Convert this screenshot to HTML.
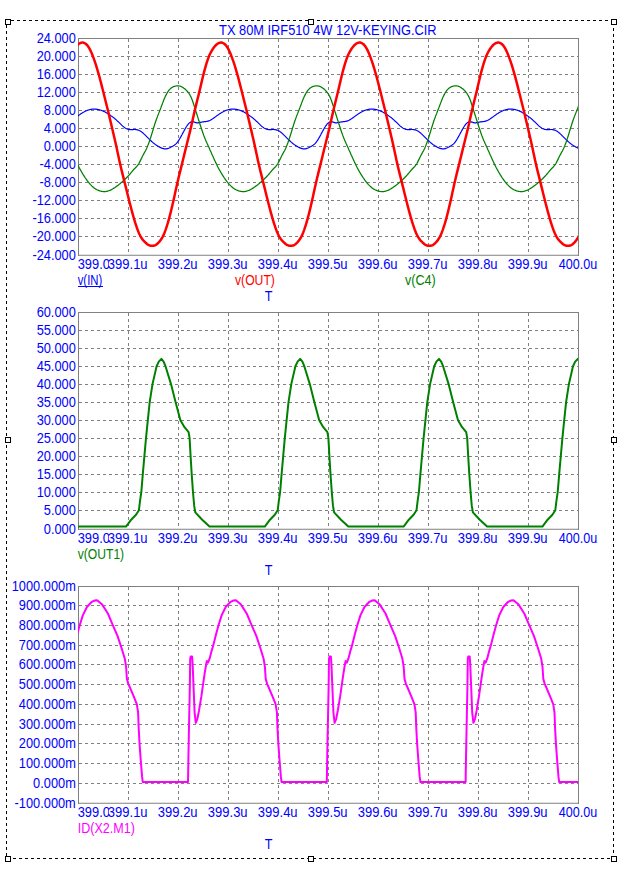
<!DOCTYPE html>
<html><head><meta charset="utf-8"><title>TX 80M IRF510 4W 12V-KEYING.CIR</title>
<style>
html,body{margin:0;padding:0;background:#fff;}
body{width:619px;height:872px;overflow:hidden;position:relative;}
svg{position:absolute;left:0;top:0;display:block;}
text{font-family:"Liberation Sans",sans-serif;font-size:14.5px;}
.t{fill:#0000ff;}
.g{stroke:#808080;stroke-width:1;stroke-dasharray:3 3;shape-rendering:crispEdges;}
.f{fill:none;stroke:#808080;stroke-width:1;shape-rendering:crispEdges;}
.sel{fill:none;stroke:#000;stroke-width:1;stroke-dasharray:3 3;shape-rendering:crispEdges;}
.h{fill:#fff;stroke:#000;stroke-width:1;shape-rendering:crispEdges;}
.c{fill:none;stroke-linejoin:round;stroke-linecap:round;}
</style></head><body>
<svg width="619" height="872" viewBox="0 0 619 872">
<rect x="0" y="0" width="619" height="872" fill="#fff"/>
<g fill="#000" shape-rendering="crispEdges">
<rect x="6" y="20" width="2" height="1"/><rect x="11" y="20" width="3" height="1"/><rect x="17" y="20" width="3" height="1"/><rect x="23" y="20" width="3" height="1"/><rect x="29" y="20" width="3" height="1"/><rect x="35" y="20" width="3" height="1"/><rect x="41" y="20" width="3" height="1"/><rect x="47" y="20" width="3" height="1"/><rect x="53" y="20" width="3" height="1"/><rect x="59" y="20" width="3" height="1"/><rect x="65" y="20" width="3" height="1"/><rect x="71" y="20" width="3" height="1"/><rect x="77" y="20" width="3" height="1"/><rect x="83" y="20" width="3" height="1"/><rect x="89" y="20" width="3" height="1"/><rect x="95" y="20" width="3" height="1"/><rect x="101" y="20" width="3" height="1"/><rect x="107" y="20" width="3" height="1"/><rect x="113" y="20" width="3" height="1"/><rect x="119" y="20" width="3" height="1"/><rect x="125" y="20" width="3" height="1"/><rect x="131" y="20" width="3" height="1"/><rect x="137" y="20" width="3" height="1"/><rect x="143" y="20" width="3" height="1"/><rect x="149" y="20" width="3" height="1"/><rect x="155" y="20" width="3" height="1"/><rect x="161" y="20" width="3" height="1"/><rect x="167" y="20" width="3" height="1"/><rect x="173" y="20" width="3" height="1"/><rect x="179" y="20" width="3" height="1"/><rect x="185" y="20" width="3" height="1"/><rect x="191" y="20" width="3" height="1"/><rect x="197" y="20" width="3" height="1"/><rect x="203" y="20" width="3" height="1"/><rect x="209" y="20" width="3" height="1"/><rect x="215" y="20" width="3" height="1"/><rect x="221" y="20" width="3" height="1"/><rect x="227" y="20" width="3" height="1"/><rect x="233" y="20" width="3" height="1"/><rect x="239" y="20" width="3" height="1"/><rect x="245" y="20" width="3" height="1"/><rect x="251" y="20" width="3" height="1"/><rect x="257" y="20" width="3" height="1"/><rect x="263" y="20" width="3" height="1"/><rect x="269" y="20" width="3" height="1"/><rect x="275" y="20" width="3" height="1"/><rect x="281" y="20" width="3" height="1"/><rect x="287" y="20" width="3" height="1"/><rect x="293" y="20" width="3" height="1"/><rect x="299" y="20" width="3" height="1"/><rect x="305" y="20" width="3" height="1"/><rect x="311" y="20" width="3" height="1"/><rect x="317" y="20" width="3" height="1"/><rect x="323" y="20" width="3" height="1"/><rect x="329" y="20" width="3" height="1"/><rect x="335" y="20" width="3" height="1"/><rect x="341" y="20" width="3" height="1"/><rect x="347" y="20" width="3" height="1"/><rect x="353" y="20" width="3" height="1"/><rect x="359" y="20" width="3" height="1"/><rect x="365" y="20" width="3" height="1"/><rect x="371" y="20" width="3" height="1"/><rect x="377" y="20" width="3" height="1"/><rect x="383" y="20" width="3" height="1"/><rect x="389" y="20" width="3" height="1"/><rect x="395" y="20" width="3" height="1"/><rect x="401" y="20" width="3" height="1"/><rect x="407" y="20" width="3" height="1"/><rect x="413" y="20" width="3" height="1"/><rect x="419" y="20" width="3" height="1"/><rect x="425" y="20" width="3" height="1"/><rect x="431" y="20" width="3" height="1"/><rect x="437" y="20" width="3" height="1"/><rect x="443" y="20" width="3" height="1"/><rect x="449" y="20" width="3" height="1"/><rect x="455" y="20" width="3" height="1"/><rect x="461" y="20" width="3" height="1"/><rect x="467" y="20" width="3" height="1"/><rect x="473" y="20" width="3" height="1"/><rect x="479" y="20" width="3" height="1"/><rect x="485" y="20" width="3" height="1"/><rect x="491" y="20" width="3" height="1"/><rect x="497" y="20" width="3" height="1"/><rect x="503" y="20" width="3" height="1"/><rect x="509" y="20" width="3" height="1"/><rect x="515" y="20" width="3" height="1"/><rect x="521" y="20" width="3" height="1"/><rect x="527" y="20" width="3" height="1"/><rect x="533" y="20" width="3" height="1"/><rect x="539" y="20" width="3" height="1"/><rect x="545" y="20" width="3" height="1"/><rect x="551" y="20" width="3" height="1"/><rect x="557" y="20" width="3" height="1"/><rect x="563" y="20" width="3" height="1"/><rect x="569" y="20" width="3" height="1"/><rect x="575" y="20" width="3" height="1"/><rect x="581" y="20" width="3" height="1"/><rect x="587" y="20" width="3" height="1"/><rect x="593" y="20" width="3" height="1"/><rect x="599" y="20" width="3" height="1"/><rect x="605" y="20" width="3" height="1"/><rect x="611" y="20" width="3" height="1"/>
<rect x="7" y="858" width="3" height="1"/><rect x="13" y="858" width="3" height="1"/><rect x="19" y="858" width="3" height="1"/><rect x="25" y="858" width="3" height="1"/><rect x="31" y="858" width="3" height="1"/><rect x="37" y="858" width="3" height="1"/><rect x="43" y="858" width="3" height="1"/><rect x="49" y="858" width="3" height="1"/><rect x="55" y="858" width="3" height="1"/><rect x="61" y="858" width="3" height="1"/><rect x="67" y="858" width="3" height="1"/><rect x="73" y="858" width="3" height="1"/><rect x="79" y="858" width="3" height="1"/><rect x="85" y="858" width="3" height="1"/><rect x="91" y="858" width="3" height="1"/><rect x="97" y="858" width="3" height="1"/><rect x="103" y="858" width="3" height="1"/><rect x="109" y="858" width="3" height="1"/><rect x="115" y="858" width="3" height="1"/><rect x="121" y="858" width="3" height="1"/><rect x="127" y="858" width="3" height="1"/><rect x="133" y="858" width="3" height="1"/><rect x="139" y="858" width="3" height="1"/><rect x="145" y="858" width="3" height="1"/><rect x="151" y="858" width="3" height="1"/><rect x="157" y="858" width="3" height="1"/><rect x="163" y="858" width="3" height="1"/><rect x="169" y="858" width="3" height="1"/><rect x="175" y="858" width="3" height="1"/><rect x="181" y="858" width="3" height="1"/><rect x="187" y="858" width="3" height="1"/><rect x="193" y="858" width="3" height="1"/><rect x="199" y="858" width="3" height="1"/><rect x="205" y="858" width="3" height="1"/><rect x="211" y="858" width="3" height="1"/><rect x="217" y="858" width="3" height="1"/><rect x="223" y="858" width="3" height="1"/><rect x="229" y="858" width="3" height="1"/><rect x="235" y="858" width="3" height="1"/><rect x="241" y="858" width="3" height="1"/><rect x="247" y="858" width="3" height="1"/><rect x="253" y="858" width="3" height="1"/><rect x="259" y="858" width="3" height="1"/><rect x="265" y="858" width="3" height="1"/><rect x="271" y="858" width="3" height="1"/><rect x="277" y="858" width="3" height="1"/><rect x="283" y="858" width="3" height="1"/><rect x="289" y="858" width="3" height="1"/><rect x="295" y="858" width="3" height="1"/><rect x="301" y="858" width="3" height="1"/><rect x="307" y="858" width="3" height="1"/><rect x="313" y="858" width="3" height="1"/><rect x="319" y="858" width="3" height="1"/><rect x="325" y="858" width="3" height="1"/><rect x="331" y="858" width="3" height="1"/><rect x="337" y="858" width="3" height="1"/><rect x="343" y="858" width="3" height="1"/><rect x="349" y="858" width="3" height="1"/><rect x="355" y="858" width="3" height="1"/><rect x="361" y="858" width="3" height="1"/><rect x="367" y="858" width="3" height="1"/><rect x="373" y="858" width="3" height="1"/><rect x="379" y="858" width="3" height="1"/><rect x="385" y="858" width="3" height="1"/><rect x="391" y="858" width="3" height="1"/><rect x="397" y="858" width="3" height="1"/><rect x="403" y="858" width="3" height="1"/><rect x="409" y="858" width="3" height="1"/><rect x="415" y="858" width="3" height="1"/><rect x="421" y="858" width="3" height="1"/><rect x="427" y="858" width="3" height="1"/><rect x="433" y="858" width="3" height="1"/><rect x="439" y="858" width="3" height="1"/><rect x="445" y="858" width="3" height="1"/><rect x="451" y="858" width="3" height="1"/><rect x="457" y="858" width="3" height="1"/><rect x="463" y="858" width="3" height="1"/><rect x="469" y="858" width="3" height="1"/><rect x="475" y="858" width="3" height="1"/><rect x="481" y="858" width="3" height="1"/><rect x="487" y="858" width="3" height="1"/><rect x="493" y="858" width="3" height="1"/><rect x="499" y="858" width="3" height="1"/><rect x="505" y="858" width="3" height="1"/><rect x="511" y="858" width="3" height="1"/><rect x="517" y="858" width="3" height="1"/><rect x="523" y="858" width="3" height="1"/><rect x="529" y="858" width="3" height="1"/><rect x="535" y="858" width="3" height="1"/><rect x="541" y="858" width="3" height="1"/><rect x="547" y="858" width="3" height="1"/><rect x="553" y="858" width="3" height="1"/><rect x="559" y="858" width="3" height="1"/><rect x="565" y="858" width="3" height="1"/><rect x="571" y="858" width="3" height="1"/><rect x="577" y="858" width="3" height="1"/><rect x="583" y="858" width="3" height="1"/><rect x="589" y="858" width="3" height="1"/><rect x="595" y="858" width="3" height="1"/><rect x="601" y="858" width="3" height="1"/><rect x="607" y="858" width="3" height="1"/><rect x="613" y="858" width="1" height="1"/>
<rect x="6" y="20" width="1" height="2"/><rect x="6" y="25" width="1" height="3"/><rect x="6" y="31" width="1" height="3"/><rect x="6" y="37" width="1" height="3"/><rect x="6" y="43" width="1" height="3"/><rect x="6" y="49" width="1" height="3"/><rect x="6" y="55" width="1" height="3"/><rect x="6" y="61" width="1" height="3"/><rect x="6" y="67" width="1" height="3"/><rect x="6" y="73" width="1" height="3"/><rect x="6" y="79" width="1" height="3"/><rect x="6" y="85" width="1" height="3"/><rect x="6" y="91" width="1" height="3"/><rect x="6" y="97" width="1" height="3"/><rect x="6" y="103" width="1" height="3"/><rect x="6" y="109" width="1" height="3"/><rect x="6" y="115" width="1" height="3"/><rect x="6" y="121" width="1" height="3"/><rect x="6" y="127" width="1" height="3"/><rect x="6" y="133" width="1" height="3"/><rect x="6" y="139" width="1" height="3"/><rect x="6" y="145" width="1" height="3"/><rect x="6" y="151" width="1" height="3"/><rect x="6" y="157" width="1" height="3"/><rect x="6" y="163" width="1" height="3"/><rect x="6" y="169" width="1" height="3"/><rect x="6" y="175" width="1" height="3"/><rect x="6" y="181" width="1" height="3"/><rect x="6" y="187" width="1" height="3"/><rect x="6" y="193" width="1" height="3"/><rect x="6" y="199" width="1" height="3"/><rect x="6" y="205" width="1" height="3"/><rect x="6" y="211" width="1" height="3"/><rect x="6" y="217" width="1" height="3"/><rect x="6" y="223" width="1" height="3"/><rect x="6" y="229" width="1" height="3"/><rect x="6" y="235" width="1" height="3"/><rect x="6" y="241" width="1" height="3"/><rect x="6" y="247" width="1" height="3"/><rect x="6" y="253" width="1" height="3"/><rect x="6" y="259" width="1" height="3"/><rect x="6" y="265" width="1" height="3"/><rect x="6" y="271" width="1" height="3"/><rect x="6" y="277" width="1" height="3"/><rect x="6" y="283" width="1" height="3"/><rect x="6" y="289" width="1" height="3"/><rect x="6" y="295" width="1" height="3"/><rect x="6" y="301" width="1" height="3"/><rect x="6" y="307" width="1" height="3"/><rect x="6" y="313" width="1" height="3"/><rect x="6" y="319" width="1" height="3"/><rect x="6" y="325" width="1" height="3"/><rect x="6" y="331" width="1" height="3"/><rect x="6" y="337" width="1" height="3"/><rect x="6" y="343" width="1" height="3"/><rect x="6" y="349" width="1" height="3"/><rect x="6" y="355" width="1" height="3"/><rect x="6" y="361" width="1" height="3"/><rect x="6" y="367" width="1" height="3"/><rect x="6" y="373" width="1" height="3"/><rect x="6" y="379" width="1" height="3"/><rect x="6" y="385" width="1" height="3"/><rect x="6" y="391" width="1" height="3"/><rect x="6" y="397" width="1" height="3"/><rect x="6" y="403" width="1" height="3"/><rect x="6" y="409" width="1" height="3"/><rect x="6" y="415" width="1" height="3"/><rect x="6" y="421" width="1" height="3"/><rect x="6" y="427" width="1" height="3"/><rect x="6" y="433" width="1" height="3"/><rect x="6" y="439" width="1" height="3"/><rect x="6" y="445" width="1" height="3"/><rect x="6" y="451" width="1" height="3"/><rect x="6" y="457" width="1" height="3"/><rect x="6" y="463" width="1" height="3"/><rect x="6" y="469" width="1" height="3"/><rect x="6" y="475" width="1" height="3"/><rect x="6" y="481" width="1" height="3"/><rect x="6" y="487" width="1" height="3"/><rect x="6" y="493" width="1" height="3"/><rect x="6" y="499" width="1" height="3"/><rect x="6" y="505" width="1" height="3"/><rect x="6" y="511" width="1" height="3"/><rect x="6" y="517" width="1" height="3"/><rect x="6" y="523" width="1" height="3"/><rect x="6" y="529" width="1" height="3"/><rect x="6" y="535" width="1" height="3"/><rect x="6" y="541" width="1" height="3"/><rect x="6" y="547" width="1" height="3"/><rect x="6" y="553" width="1" height="3"/><rect x="6" y="559" width="1" height="3"/><rect x="6" y="565" width="1" height="3"/><rect x="6" y="571" width="1" height="3"/><rect x="6" y="577" width="1" height="3"/><rect x="6" y="583" width="1" height="3"/><rect x="6" y="589" width="1" height="3"/><rect x="6" y="595" width="1" height="3"/><rect x="6" y="601" width="1" height="3"/><rect x="6" y="607" width="1" height="3"/><rect x="6" y="613" width="1" height="3"/><rect x="6" y="619" width="1" height="3"/><rect x="6" y="625" width="1" height="3"/><rect x="6" y="631" width="1" height="3"/><rect x="6" y="637" width="1" height="3"/><rect x="6" y="643" width="1" height="3"/><rect x="6" y="649" width="1" height="3"/><rect x="6" y="655" width="1" height="3"/><rect x="6" y="661" width="1" height="3"/><rect x="6" y="667" width="1" height="3"/><rect x="6" y="673" width="1" height="3"/><rect x="6" y="679" width="1" height="3"/><rect x="6" y="685" width="1" height="3"/><rect x="6" y="691" width="1" height="3"/><rect x="6" y="697" width="1" height="3"/><rect x="6" y="703" width="1" height="3"/><rect x="6" y="709" width="1" height="3"/><rect x="6" y="715" width="1" height="3"/><rect x="6" y="721" width="1" height="3"/><rect x="6" y="727" width="1" height="3"/><rect x="6" y="733" width="1" height="3"/><rect x="6" y="739" width="1" height="3"/><rect x="6" y="745" width="1" height="3"/><rect x="6" y="751" width="1" height="3"/><rect x="6" y="757" width="1" height="3"/><rect x="6" y="763" width="1" height="3"/><rect x="6" y="769" width="1" height="3"/><rect x="6" y="775" width="1" height="3"/><rect x="6" y="781" width="1" height="3"/><rect x="6" y="787" width="1" height="3"/><rect x="6" y="793" width="1" height="3"/><rect x="6" y="799" width="1" height="3"/><rect x="6" y="805" width="1" height="3"/><rect x="6" y="811" width="1" height="3"/><rect x="6" y="817" width="1" height="3"/><rect x="6" y="823" width="1" height="3"/><rect x="6" y="829" width="1" height="3"/><rect x="6" y="835" width="1" height="3"/><rect x="6" y="841" width="1" height="3"/><rect x="6" y="847" width="1" height="3"/><rect x="6" y="853" width="1" height="3"/>
<rect x="613" y="22" width="1" height="3"/><rect x="613" y="28" width="1" height="3"/><rect x="613" y="34" width="1" height="3"/><rect x="613" y="40" width="1" height="3"/><rect x="613" y="46" width="1" height="3"/><rect x="613" y="52" width="1" height="3"/><rect x="613" y="58" width="1" height="3"/><rect x="613" y="64" width="1" height="3"/><rect x="613" y="70" width="1" height="3"/><rect x="613" y="76" width="1" height="3"/><rect x="613" y="82" width="1" height="3"/><rect x="613" y="88" width="1" height="3"/><rect x="613" y="94" width="1" height="3"/><rect x="613" y="100" width="1" height="3"/><rect x="613" y="106" width="1" height="3"/><rect x="613" y="112" width="1" height="3"/><rect x="613" y="118" width="1" height="3"/><rect x="613" y="124" width="1" height="3"/><rect x="613" y="130" width="1" height="3"/><rect x="613" y="136" width="1" height="3"/><rect x="613" y="142" width="1" height="3"/><rect x="613" y="148" width="1" height="3"/><rect x="613" y="154" width="1" height="3"/><rect x="613" y="160" width="1" height="3"/><rect x="613" y="166" width="1" height="3"/><rect x="613" y="172" width="1" height="3"/><rect x="613" y="178" width="1" height="3"/><rect x="613" y="184" width="1" height="3"/><rect x="613" y="190" width="1" height="3"/><rect x="613" y="196" width="1" height="3"/><rect x="613" y="202" width="1" height="3"/><rect x="613" y="208" width="1" height="3"/><rect x="613" y="214" width="1" height="3"/><rect x="613" y="220" width="1" height="3"/><rect x="613" y="226" width="1" height="3"/><rect x="613" y="232" width="1" height="3"/><rect x="613" y="238" width="1" height="3"/><rect x="613" y="244" width="1" height="3"/><rect x="613" y="250" width="1" height="3"/><rect x="613" y="256" width="1" height="3"/><rect x="613" y="262" width="1" height="3"/><rect x="613" y="268" width="1" height="3"/><rect x="613" y="274" width="1" height="3"/><rect x="613" y="280" width="1" height="3"/><rect x="613" y="286" width="1" height="3"/><rect x="613" y="292" width="1" height="3"/><rect x="613" y="298" width="1" height="3"/><rect x="613" y="304" width="1" height="3"/><rect x="613" y="310" width="1" height="3"/><rect x="613" y="316" width="1" height="3"/><rect x="613" y="322" width="1" height="3"/><rect x="613" y="328" width="1" height="3"/><rect x="613" y="334" width="1" height="3"/><rect x="613" y="340" width="1" height="3"/><rect x="613" y="346" width="1" height="3"/><rect x="613" y="352" width="1" height="3"/><rect x="613" y="358" width="1" height="3"/><rect x="613" y="364" width="1" height="3"/><rect x="613" y="370" width="1" height="3"/><rect x="613" y="376" width="1" height="3"/><rect x="613" y="382" width="1" height="3"/><rect x="613" y="388" width="1" height="3"/><rect x="613" y="394" width="1" height="3"/><rect x="613" y="400" width="1" height="3"/><rect x="613" y="406" width="1" height="3"/><rect x="613" y="412" width="1" height="3"/><rect x="613" y="418" width="1" height="3"/><rect x="613" y="424" width="1" height="3"/><rect x="613" y="430" width="1" height="3"/><rect x="613" y="436" width="1" height="3"/><rect x="613" y="442" width="1" height="3"/><rect x="613" y="448" width="1" height="3"/><rect x="613" y="454" width="1" height="3"/><rect x="613" y="460" width="1" height="3"/><rect x="613" y="466" width="1" height="3"/><rect x="613" y="472" width="1" height="3"/><rect x="613" y="478" width="1" height="3"/><rect x="613" y="484" width="1" height="3"/><rect x="613" y="490" width="1" height="3"/><rect x="613" y="496" width="1" height="3"/><rect x="613" y="502" width="1" height="3"/><rect x="613" y="508" width="1" height="3"/><rect x="613" y="514" width="1" height="3"/><rect x="613" y="520" width="1" height="3"/><rect x="613" y="526" width="1" height="3"/><rect x="613" y="532" width="1" height="3"/><rect x="613" y="538" width="1" height="3"/><rect x="613" y="544" width="1" height="3"/><rect x="613" y="550" width="1" height="3"/><rect x="613" y="556" width="1" height="3"/><rect x="613" y="562" width="1" height="3"/><rect x="613" y="568" width="1" height="3"/><rect x="613" y="574" width="1" height="3"/><rect x="613" y="580" width="1" height="3"/><rect x="613" y="586" width="1" height="3"/><rect x="613" y="592" width="1" height="3"/><rect x="613" y="598" width="1" height="3"/><rect x="613" y="604" width="1" height="3"/><rect x="613" y="610" width="1" height="3"/><rect x="613" y="616" width="1" height="3"/><rect x="613" y="622" width="1" height="3"/><rect x="613" y="628" width="1" height="3"/><rect x="613" y="634" width="1" height="3"/><rect x="613" y="640" width="1" height="3"/><rect x="613" y="646" width="1" height="3"/><rect x="613" y="652" width="1" height="3"/><rect x="613" y="658" width="1" height="3"/><rect x="613" y="664" width="1" height="3"/><rect x="613" y="670" width="1" height="3"/><rect x="613" y="676" width="1" height="3"/><rect x="613" y="682" width="1" height="3"/><rect x="613" y="688" width="1" height="3"/><rect x="613" y="694" width="1" height="3"/><rect x="613" y="700" width="1" height="3"/><rect x="613" y="706" width="1" height="3"/><rect x="613" y="712" width="1" height="3"/><rect x="613" y="718" width="1" height="3"/><rect x="613" y="724" width="1" height="3"/><rect x="613" y="730" width="1" height="3"/><rect x="613" y="736" width="1" height="3"/><rect x="613" y="742" width="1" height="3"/><rect x="613" y="748" width="1" height="3"/><rect x="613" y="754" width="1" height="3"/><rect x="613" y="760" width="1" height="3"/><rect x="613" y="766" width="1" height="3"/><rect x="613" y="772" width="1" height="3"/><rect x="613" y="778" width="1" height="3"/><rect x="613" y="784" width="1" height="3"/><rect x="613" y="790" width="1" height="3"/><rect x="613" y="796" width="1" height="3"/><rect x="613" y="802" width="1" height="3"/><rect x="613" y="808" width="1" height="3"/><rect x="613" y="814" width="1" height="3"/><rect x="613" y="820" width="1" height="3"/><rect x="613" y="826" width="1" height="3"/><rect x="613" y="832" width="1" height="3"/><rect x="613" y="838" width="1" height="3"/><rect x="613" y="844" width="1" height="3"/><rect x="613" y="850" width="1" height="3"/><rect x="613" y="856" width="1" height="3"/>
</g>
<rect x="5.5" y="19.5" width="5" height="5" class="h"/>
<rect x="611.5" y="19.5" width="5" height="5" class="h"/>
<rect x="5.5" y="856.5" width="5" height="5" class="h"/>
<rect x="611.5" y="856.5" width="5" height="5" class="h"/>
<rect x="308.5" y="19.5" width="5" height="5" class="h"/>
<rect x="308.5" y="856.5" width="5" height="5" class="h"/>
<rect x="5.5" y="437.5" width="5" height="5" class="h"/>
<rect x="611.5" y="437.5" width="5" height="5" class="h"/>
<text transform="translate(327.80,35.00) scale(0.8853793103448276,1)" fill="#0000ff" text-anchor="middle">TX 80M IRF510 4W 12V-KEYING.CIR</text>
<line x1="128.5" y1="39.0" x2="128.5" y2="255.0" class="g"/>
<line x1="178.5" y1="39.0" x2="178.5" y2="255.0" class="g"/>
<line x1="228.5" y1="39.0" x2="228.5" y2="255.0" class="g"/>
<line x1="278.5" y1="39.0" x2="278.5" y2="255.0" class="g"/>
<line x1="328.5" y1="39.0" x2="328.5" y2="255.0" class="g"/>
<line x1="378.5" y1="39.0" x2="378.5" y2="255.0" class="g"/>
<line x1="428.5" y1="39.0" x2="428.5" y2="255.0" class="g"/>
<line x1="478.5" y1="39.0" x2="478.5" y2="255.0" class="g"/>
<line x1="528.5" y1="39.0" x2="528.5" y2="255.0" class="g"/>
<line x1="79.0" y1="56.5" x2="578.5" y2="56.5" class="g"/>
<line x1="79.0" y1="74.5" x2="578.5" y2="74.5" class="g"/>
<line x1="79.0" y1="92.5" x2="578.5" y2="92.5" class="g"/>
<line x1="79.0" y1="110.5" x2="578.5" y2="110.5" class="g"/>
<line x1="79.0" y1="128.5" x2="578.5" y2="128.5" class="g"/>
<line x1="79.0" y1="146.5" x2="578.5" y2="146.5" class="g"/>
<line x1="79.0" y1="164.5" x2="578.5" y2="164.5" class="g"/>
<line x1="79.0" y1="182.5" x2="578.5" y2="182.5" class="g"/>
<line x1="79.0" y1="200.5" x2="578.5" y2="200.5" class="g"/>
<line x1="79.0" y1="218.5" x2="578.5" y2="218.5" class="g"/>
<line x1="79.0" y1="236.5" x2="578.5" y2="236.5" class="g"/>
<path d="M78.5 255.75V38.5H578.5V255.75" class="f"/>
<line x1="78.0" y1="255.25" x2="579.0" y2="255.25" stroke="#808080" stroke-width="1"/>
<clipPath id="c1"><rect x="78.0" y="38.5" width="500.0" height="216.5"/></clipPath>
<g clip-path="url(#c1)">
<path d="M-44.6 109.1L-44.1 109.1L-43.6 109.1L-43.1 109.2L-42.6 109.2L-42.1 109.3L-41.6 109.3L-41.1 109.4L-40.6 109.5L-40.1 109.6L-39.6 109.7L-39.1 109.9L-38.6 110.0L-38.1 110.2L-37.6 110.3L-37.1 110.5L-36.6 110.7L-36.1 110.9L-35.6 111.1L-35.1 111.4L-34.6 111.6L-34.1 111.8L-33.6 112.1L-33.1 112.4L-32.6 112.7L-32.1 112.9L-31.6 113.2L-31.1 113.5L-30.6 113.9L-30.1 114.2L-29.6 114.5L-29.1 114.8L-28.6 115.2L-28.1 115.5L-27.6 115.9L-27.1 116.2L-26.6 116.6L-26.1 117.0L-25.6 117.3L-25.1 117.7L-24.6 118.1L-24.1 118.5L-23.6 119.0L-23.1 119.4L-22.6 119.8L-22.1 120.3L-21.6 120.8L-21.1 121.3L-20.6 121.7L-20.1 122.2L-19.6 122.7L-19.1 123.2L-18.6 123.7L-18.1 124.2L-17.6 124.7L-17.1 125.2L-16.6 125.6L-16.1 126.1L-15.6 126.5L-15.1 126.9L-14.6 127.3L-14.1 127.6L-13.6 128.0L-13.1 128.3L-12.6 128.5L-12.1 128.8L-11.6 129.0L-11.1 129.2L-10.6 129.3L-10.1 129.4L-9.6 129.5L-9.1 129.6L-8.6 129.6L-8.1 129.6L-7.6 129.6L-7.1 129.6L-6.6 129.6L-6.1 129.6L-5.6 129.6L-5.1 129.5L-4.6 129.5L-4.1 129.5L-3.6 129.5L-3.1 129.6L-2.6 129.6L-2.1 129.7L-1.6 129.8L-1.1 129.9L-0.6 130.1L-0.1 130.3L0.4 130.5L0.9 130.7L1.4 131.0L1.9 131.3L2.4 131.6L2.9 132.0L3.4 132.4L3.9 132.8L4.4 133.2L4.9 133.7L5.4 134.1L5.9 134.6L6.4 135.1L6.9 135.6L7.4 136.1L7.9 136.6L8.4 137.1L8.9 137.6L9.4 138.1L9.9 138.6L10.4 139.1L10.9 139.6L11.4 140.1L11.9 140.5L12.4 141.0L12.9 141.5L13.4 141.9L13.9 142.4L14.4 142.8L14.9 143.2L15.4 143.6L15.9 144.0L16.4 144.4L16.9 144.7L17.4 145.1L17.9 145.4L18.4 145.7L18.9 146.1L19.4 146.3L19.9 146.6L20.4 146.9L20.9 147.2L21.4 147.4L21.9 147.6L22.4 147.9L22.9 148.1L23.4 148.3L23.9 148.4L24.4 148.6L24.9 148.7L25.4 148.8L25.9 148.9L26.4 148.9L26.9 148.9L27.4 148.9L27.9 148.8L28.4 148.7L28.9 148.6L29.4 148.4L29.9 148.2L30.4 148.0L30.9 147.7L31.4 147.5L31.9 147.2L32.4 147.0L32.9 146.7L33.4 146.4L33.9 146.2L34.4 145.9L34.9 145.6L35.4 145.3L35.9 144.9L36.4 144.5L36.9 144.1L37.4 143.6L37.9 143.1L38.4 142.5L38.9 141.8L39.4 141.1L39.9 140.4L40.4 139.6L40.9 138.8L41.4 137.9L41.9 137.0L42.4 136.1L42.9 135.2L43.4 134.3L43.9 133.3L44.4 132.4L44.9 131.5L45.4 130.5L45.9 129.6L46.4 128.7L46.9 127.9L47.4 127.0L47.9 126.3L48.4 125.5L48.9 124.9L49.4 124.2L49.9 123.7L50.4 123.2L50.9 122.7L51.4 122.4L51.9 122.1L52.4 121.9L52.9 121.8L53.4 121.8L53.9 121.8L54.4 121.8L54.9 121.9L55.4 122.1L55.9 122.2L56.4 122.4L56.9 122.6L57.4 122.7L57.9 122.8L58.4 122.8L58.9 122.8L59.4 122.8L59.9 122.7L60.4 122.6L60.9 122.5L61.4 122.4L61.9 122.3L62.4 122.2L62.9 122.1L63.4 122.0L63.9 121.9L64.4 121.8L64.9 121.8L65.4 121.7L65.9 121.7L66.4 121.6L66.9 121.6L67.4 121.5L67.9 121.4L68.4 121.3L68.9 121.2L69.4 121.1L69.9 120.9L70.4 120.7L70.9 120.5L71.4 120.3L71.9 120.0L72.4 119.7L72.9 119.4L73.4 119.1L73.9 118.8L74.4 118.4L74.9 118.1L75.4 117.7L75.9 117.3L76.4 117.0L76.9 116.6L77.4 116.3L77.9 115.9L78.4 115.5L78.9 115.2L79.4 114.8L79.9 114.5L80.4 114.1L80.9 113.8L81.4 113.5L81.9 113.2L82.4 112.8L82.9 112.5L83.4 112.2L83.9 112.0L84.4 111.7L84.9 111.4L85.4 111.2L85.9 111.0L86.4 110.7L86.9 110.5L87.4 110.3L87.9 110.2L88.4 110.0L88.9 109.9L89.4 109.7L89.9 109.6L90.4 109.5L90.9 109.4L91.4 109.3L91.9 109.2L92.4 109.2L92.9 109.1L93.4 109.1L93.9 109.1L94.2 109.1L94.7 109.1L95.2 109.1L95.7 109.2L96.2 109.2L96.7 109.3L97.2 109.3L97.7 109.4L98.2 109.5L98.7 109.6L99.2 109.7L99.7 109.9L100.2 110.0L100.7 110.2L101.2 110.3L101.7 110.5L102.2 110.7L102.7 110.9L103.2 111.1L103.7 111.4L104.2 111.6L104.7 111.8L105.2 112.1L105.7 112.4L106.2 112.7L106.7 112.9L107.2 113.2L107.7 113.5L108.2 113.9L108.7 114.2L109.2 114.5L109.7 114.8L110.2 115.2L110.7 115.5L111.2 115.9L111.7 116.2L112.2 116.6L112.7 117.0L113.2 117.3L113.7 117.7L114.2 118.1L114.7 118.5L115.2 119.0L115.7 119.4L116.2 119.8L116.7 120.3L117.2 120.8L117.7 121.3L118.2 121.7L118.7 122.2L119.2 122.7L119.7 123.2L120.2 123.7L120.7 124.2L121.2 124.7L121.7 125.2L122.2 125.6L122.7 126.1L123.2 126.5L123.7 126.9L124.2 127.3L124.7 127.6L125.2 128.0L125.7 128.3L126.2 128.5L126.7 128.8L127.2 129.0L127.7 129.2L128.2 129.3L128.7 129.4L129.2 129.5L129.7 129.6L130.2 129.6L130.7 129.6L131.2 129.6L131.7 129.6L132.2 129.6L132.7 129.6L133.2 129.6L133.7 129.5L134.2 129.5L134.7 129.5L135.2 129.5L135.7 129.6L136.2 129.6L136.7 129.7L137.2 129.8L137.7 129.9L138.2 130.1L138.7 130.3L139.2 130.5L139.7 130.7L140.2 131.0L140.7 131.3L141.2 131.6L141.7 132.0L142.2 132.4L142.7 132.8L143.2 133.2L143.7 133.7L144.2 134.1L144.7 134.6L145.2 135.1L145.7 135.6L146.2 136.1L146.7 136.6L147.2 137.1L147.7 137.6L148.2 138.1L148.7 138.6L149.2 139.1L149.7 139.6L150.2 140.1L150.7 140.5L151.2 141.0L151.7 141.5L152.2 141.9L152.7 142.4L153.2 142.8L153.7 143.2L154.2 143.6L154.7 144.0L155.2 144.4L155.7 144.7L156.2 145.1L156.7 145.4L157.2 145.7L157.7 146.1L158.2 146.3L158.7 146.6L159.2 146.9L159.7 147.2L160.2 147.4L160.7 147.6L161.2 147.9L161.7 148.1L162.2 148.3L162.7 148.4L163.2 148.6L163.7 148.7L164.2 148.8L164.7 148.9L165.2 148.9L165.7 148.9L166.2 148.9L166.7 148.8L167.2 148.7L167.7 148.6L168.2 148.4L168.7 148.2L169.2 148.0L169.7 147.7L170.2 147.5L170.7 147.2L171.2 147.0L171.7 146.7L172.2 146.4L172.7 146.2L173.2 145.9L173.7 145.6L174.2 145.3L174.7 144.9L175.2 144.5L175.7 144.1L176.2 143.6L176.7 143.1L177.2 142.5L177.7 141.8L178.2 141.1L178.7 140.4L179.2 139.6L179.7 138.8L180.2 137.9L180.7 137.0L181.2 136.1L181.7 135.2L182.2 134.3L182.7 133.3L183.2 132.4L183.7 131.5L184.2 130.5L184.7 129.6L185.2 128.7L185.7 127.9L186.2 127.0L186.7 126.3L187.2 125.5L187.7 124.9L188.2 124.2L188.7 123.7L189.2 123.2L189.7 122.7L190.2 122.4L190.7 122.1L191.2 121.9L191.7 121.8L192.2 121.8L192.7 121.8L193.2 121.8L193.7 121.9L194.2 122.1L194.7 122.2L195.2 122.4L195.7 122.6L196.2 122.7L196.7 122.8L197.2 122.8L197.7 122.8L198.2 122.8L198.7 122.7L199.2 122.6L199.7 122.5L200.2 122.4L200.7 122.3L201.2 122.2L201.7 122.1L202.2 122.0L202.7 121.9L203.2 121.8L203.7 121.8L204.2 121.7L204.7 121.7L205.2 121.6L205.7 121.6L206.2 121.5L206.7 121.4L207.2 121.3L207.7 121.2L208.2 121.1L208.7 120.9L209.2 120.7L209.7 120.5L210.2 120.3L210.7 120.0L211.2 119.7L211.7 119.4L212.2 119.1L212.7 118.8L213.2 118.4L213.7 118.1L214.2 117.7L214.7 117.3L215.2 117.0L215.7 116.6L216.2 116.3L216.7 115.9L217.2 115.5L217.7 115.2L218.2 114.8L218.7 114.5L219.2 114.1L219.7 113.8L220.2 113.5L220.7 113.2L221.2 112.8L221.7 112.5L222.2 112.2L222.7 112.0L223.2 111.7L223.7 111.4L224.2 111.2L224.7 111.0L225.2 110.7L225.7 110.5L226.2 110.3L226.7 110.2L227.2 110.0L227.7 109.9L228.2 109.7L228.7 109.6L229.2 109.5L229.7 109.4L230.2 109.3L230.7 109.2L231.2 109.2L231.7 109.1L232.2 109.1L232.7 109.1L233.0 109.1L233.5 109.1L234.0 109.1L234.5 109.2L235.0 109.2L235.5 109.3L236.0 109.3L236.5 109.4L237.0 109.5L237.5 109.6L238.0 109.7L238.5 109.9L239.0 110.0L239.5 110.2L240.0 110.3L240.5 110.5L241.0 110.7L241.5 110.9L242.0 111.1L242.5 111.4L243.0 111.6L243.5 111.8L244.0 112.1L244.5 112.4L245.0 112.7L245.5 112.9L246.0 113.2L246.5 113.5L247.0 113.9L247.5 114.2L248.0 114.5L248.5 114.8L249.0 115.2L249.5 115.5L250.0 115.9L250.5 116.2L251.0 116.6L251.5 117.0L252.0 117.3L252.5 117.7L253.0 118.1L253.5 118.5L254.0 119.0L254.5 119.4L255.0 119.8L255.5 120.3L256.0 120.8L256.5 121.3L257.0 121.7L257.5 122.2L258.0 122.7L258.5 123.2L259.0 123.7L259.5 124.2L260.0 124.7L260.5 125.2L261.0 125.6L261.5 126.1L262.0 126.5L262.5 126.9L263.0 127.3L263.5 127.6L264.0 128.0L264.5 128.3L265.0 128.5L265.5 128.8L266.0 129.0L266.5 129.2L267.0 129.3L267.5 129.4L268.0 129.5L268.5 129.6L269.0 129.6L269.5 129.6L270.0 129.6L270.5 129.6L271.0 129.6L271.5 129.6L272.0 129.6L272.5 129.5L273.0 129.5L273.5 129.5L274.0 129.5L274.5 129.6L275.0 129.6L275.5 129.7L276.0 129.8L276.5 129.9L277.0 130.1L277.5 130.3L278.0 130.5L278.5 130.7L279.0 131.0L279.5 131.3L280.0 131.6L280.5 132.0L281.0 132.4L281.5 132.8L282.0 133.2L282.5 133.7L283.0 134.1L283.5 134.6L284.0 135.1L284.5 135.6L285.0 136.1L285.5 136.6L286.0 137.1L286.5 137.6L287.0 138.1L287.5 138.6L288.0 139.1L288.5 139.6L289.0 140.1L289.5 140.5L290.0 141.0L290.5 141.5L291.0 141.9L291.5 142.4L292.0 142.8L292.5 143.2L293.0 143.6L293.5 144.0L294.0 144.4L294.5 144.7L295.0 145.1L295.5 145.4L296.0 145.7L296.5 146.1L297.0 146.3L297.5 146.6L298.0 146.9L298.5 147.2L299.0 147.4L299.5 147.6L300.0 147.9L300.5 148.1L301.0 148.3L301.5 148.4L302.0 148.6L302.5 148.7L303.0 148.8L303.5 148.9L304.0 148.9L304.5 148.9L305.0 148.9L305.5 148.8L306.0 148.7L306.5 148.6L307.0 148.4L307.5 148.2L308.0 148.0L308.5 147.7L309.0 147.5L309.5 147.2L310.0 147.0L310.5 146.7L311.0 146.4L311.5 146.2L312.0 145.9L312.5 145.6L313.0 145.3L313.5 144.9L314.0 144.5L314.5 144.1L315.0 143.6L315.5 143.1L316.0 142.5L316.5 141.8L317.0 141.1L317.5 140.4L318.0 139.6L318.5 138.8L319.0 137.9L319.5 137.0L320.0 136.1L320.5 135.2L321.0 134.3L321.5 133.3L322.0 132.4L322.5 131.5L323.0 130.5L323.5 129.6L324.0 128.7L324.5 127.9L325.0 127.0L325.5 126.3L326.0 125.5L326.5 124.9L327.0 124.2L327.5 123.7L328.0 123.2L328.5 122.7L329.0 122.4L329.5 122.1L330.0 121.9L330.5 121.8L331.0 121.8L331.5 121.8L332.0 121.8L332.5 121.9L333.0 122.1L333.5 122.2L334.0 122.4L334.5 122.6L335.0 122.7L335.5 122.8L336.0 122.8L336.5 122.8L337.0 122.8L337.5 122.7L338.0 122.6L338.5 122.5L339.0 122.4L339.5 122.3L340.0 122.2L340.5 122.1L341.0 122.0L341.5 121.9L342.0 121.8L342.5 121.8L343.0 121.7L343.5 121.7L344.0 121.6L344.5 121.6L345.0 121.5L345.5 121.4L346.0 121.3L346.5 121.2L347.0 121.1L347.5 120.9L348.0 120.7L348.5 120.5L349.0 120.3L349.5 120.0L350.0 119.7L350.5 119.4L351.0 119.1L351.5 118.8L352.0 118.4L352.5 118.1L353.0 117.7L353.5 117.3L354.0 117.0L354.5 116.6L355.0 116.3L355.5 115.9L356.0 115.5L356.5 115.2L357.0 114.8L357.5 114.5L358.0 114.1L358.5 113.8L359.0 113.5L359.5 113.2L360.0 112.8L360.5 112.5L361.0 112.2L361.5 112.0L362.0 111.7L362.5 111.4L363.0 111.2L363.5 111.0L364.0 110.7L364.5 110.5L365.0 110.3L365.5 110.2L366.0 110.0L366.5 109.9L367.0 109.7L367.5 109.6L368.0 109.5L368.5 109.4L369.0 109.3L369.5 109.2L370.0 109.2L370.5 109.1L371.0 109.1L371.5 109.1L371.8 109.1L372.3 109.1L372.8 109.1L373.3 109.2L373.8 109.2L374.3 109.3L374.8 109.3L375.3 109.4L375.8 109.5L376.3 109.6L376.8 109.7L377.3 109.9L377.8 110.0L378.3 110.2L378.8 110.3L379.3 110.5L379.8 110.7L380.3 110.9L380.8 111.1L381.3 111.4L381.8 111.6L382.3 111.8L382.8 112.1L383.3 112.4L383.8 112.7L384.3 112.9L384.8 113.2L385.3 113.5L385.8 113.9L386.3 114.2L386.8 114.5L387.3 114.8L387.8 115.2L388.3 115.5L388.8 115.9L389.3 116.2L389.8 116.6L390.3 117.0L390.8 117.3L391.3 117.7L391.8 118.1L392.3 118.5L392.8 119.0L393.3 119.4L393.8 119.8L394.3 120.3L394.8 120.8L395.3 121.3L395.8 121.7L396.3 122.2L396.8 122.7L397.3 123.2L397.8 123.7L398.3 124.2L398.8 124.7L399.3 125.2L399.8 125.6L400.3 126.1L400.8 126.5L401.3 126.9L401.8 127.3L402.3 127.6L402.8 128.0L403.3 128.3L403.8 128.5L404.3 128.8L404.8 129.0L405.3 129.2L405.8 129.3L406.3 129.4L406.8 129.5L407.3 129.6L407.8 129.6L408.3 129.6L408.8 129.6L409.3 129.6L409.8 129.6L410.3 129.6L410.8 129.6L411.3 129.5L411.8 129.5L412.3 129.5L412.8 129.5L413.3 129.6L413.8 129.6L414.3 129.7L414.8 129.8L415.3 129.9L415.8 130.1L416.3 130.3L416.8 130.5L417.3 130.7L417.8 131.0L418.3 131.3L418.8 131.6L419.3 132.0L419.8 132.4L420.3 132.8L420.8 133.2L421.3 133.7L421.8 134.1L422.3 134.6L422.8 135.1L423.3 135.6L423.8 136.1L424.3 136.6L424.8 137.1L425.3 137.6L425.8 138.1L426.3 138.6L426.8 139.1L427.3 139.6L427.8 140.1L428.3 140.5L428.8 141.0L429.3 141.5L429.8 141.9L430.3 142.4L430.8 142.8L431.3 143.2L431.8 143.6L432.3 144.0L432.8 144.4L433.3 144.7L433.8 145.1L434.3 145.4L434.8 145.7L435.3 146.1L435.8 146.3L436.3 146.6L436.8 146.9L437.3 147.2L437.8 147.4L438.3 147.6L438.8 147.9L439.3 148.1L439.8 148.3L440.3 148.4L440.8 148.6L441.3 148.7L441.8 148.8L442.3 148.9L442.8 148.9L443.3 148.9L443.8 148.9L444.3 148.8L444.8 148.7L445.3 148.6L445.8 148.4L446.3 148.2L446.8 148.0L447.3 147.7L447.8 147.5L448.3 147.2L448.8 147.0L449.3 146.7L449.8 146.4L450.3 146.2L450.8 145.9L451.3 145.6L451.8 145.3L452.3 144.9L452.8 144.5L453.3 144.1L453.8 143.6L454.3 143.1L454.8 142.5L455.3 141.8L455.8 141.1L456.3 140.4L456.8 139.6L457.3 138.8L457.8 137.9L458.3 137.0L458.8 136.1L459.3 135.2L459.8 134.3L460.3 133.3L460.8 132.4L461.3 131.5L461.8 130.5L462.3 129.6L462.8 128.7L463.3 127.9L463.8 127.0L464.3 126.3L464.8 125.5L465.3 124.9L465.8 124.2L466.3 123.7L466.8 123.2L467.3 122.7L467.8 122.4L468.3 122.1L468.8 121.9L469.3 121.8L469.8 121.8L470.3 121.8L470.8 121.8L471.3 121.9L471.8 122.1L472.3 122.2L472.8 122.4L473.3 122.6L473.8 122.7L474.3 122.8L474.8 122.8L475.3 122.8L475.8 122.8L476.3 122.7L476.8 122.6L477.3 122.5L477.8 122.4L478.3 122.3L478.8 122.2L479.3 122.1L479.8 122.0L480.3 121.9L480.8 121.8L481.3 121.8L481.8 121.7L482.3 121.7L482.8 121.6L483.3 121.6L483.8 121.5L484.3 121.4L484.8 121.3L485.3 121.2L485.8 121.1L486.3 120.9L486.8 120.7L487.3 120.5L487.8 120.3L488.3 120.0L488.8 119.7L489.3 119.4L489.8 119.1L490.3 118.8L490.8 118.4L491.3 118.1L491.8 117.7L492.3 117.3L492.8 117.0L493.3 116.6L493.8 116.3L494.3 115.9L494.8 115.5L495.3 115.2L495.8 114.8L496.3 114.5L496.8 114.1L497.3 113.8L497.8 113.5L498.3 113.2L498.8 112.8L499.3 112.5L499.8 112.2L500.3 112.0L500.8 111.7L501.3 111.4L501.8 111.2L502.3 111.0L502.8 110.7L503.3 110.5L503.8 110.3L504.3 110.2L504.8 110.0L505.3 109.9L505.8 109.7L506.3 109.6L506.8 109.5L507.3 109.4L507.8 109.3L508.3 109.2L508.8 109.2L509.3 109.1L509.8 109.1L510.3 109.1L510.6 109.1L511.1 109.1L511.6 109.1L512.1 109.2L512.6 109.2L513.1 109.3L513.6 109.3L514.1 109.4L514.6 109.5L515.1 109.6L515.6 109.7L516.1 109.9L516.6 110.0L517.1 110.2L517.6 110.3L518.1 110.5L518.6 110.7L519.1 110.9L519.6 111.1L520.1 111.4L520.6 111.6L521.1 111.8L521.6 112.1L522.1 112.4L522.6 112.7L523.1 112.9L523.6 113.2L524.1 113.5L524.6 113.9L525.1 114.2L525.6 114.5L526.1 114.8L526.6 115.2L527.1 115.5L527.6 115.9L528.1 116.2L528.6 116.6L529.1 117.0L529.6 117.3L530.1 117.7L530.6 118.1L531.1 118.5L531.6 119.0L532.1 119.4L532.6 119.8L533.1 120.3L533.6 120.8L534.1 121.3L534.6 121.7L535.1 122.2L535.6 122.7L536.1 123.2L536.6 123.7L537.1 124.2L537.6 124.7L538.1 125.2L538.6 125.6L539.1 126.1L539.6 126.5L540.1 126.9L540.6 127.3L541.1 127.6L541.6 128.0L542.1 128.3L542.6 128.5L543.1 128.8L543.6 129.0L544.1 129.2L544.6 129.3L545.1 129.4L545.6 129.5L546.1 129.6L546.6 129.6L547.1 129.6L547.6 129.6L548.1 129.6L548.6 129.6L549.1 129.6L549.6 129.6L550.1 129.5L550.6 129.5L551.1 129.5L551.6 129.5L552.1 129.6L552.6 129.6L553.1 129.7L553.6 129.8L554.1 129.9L554.6 130.1L555.1 130.3L555.6 130.5L556.1 130.7L556.6 131.0L557.1 131.3L557.6 131.6L558.1 132.0L558.6 132.4L559.1 132.8L559.6 133.2L560.1 133.7L560.6 134.1L561.1 134.6L561.6 135.1L562.1 135.6L562.6 136.1L563.1 136.6L563.6 137.1L564.1 137.6L564.6 138.1L565.1 138.6L565.6 139.1L566.1 139.6L566.6 140.1L567.1 140.5L567.6 141.0L568.1 141.5L568.6 141.9L569.1 142.4L569.6 142.8L570.1 143.2L570.6 143.6L571.1 144.0L571.6 144.4L572.1 144.7L572.6 145.1L573.1 145.4L573.6 145.7L574.1 146.1L574.6 146.3L575.1 146.6L575.6 146.9L576.1 147.2L576.6 147.4L577.1 147.6L577.6 147.9L578.1 148.1L578.6 148.3L579.1 148.4L579.6 148.6L580.1 148.7L580.6 148.8L581.1 148.9L581.6 148.9L582.1 148.9L582.6 148.9L583.1 148.8L583.6 148.7L584.1 148.6L584.6 148.4L585.1 148.2L585.6 148.0L586.1 147.7L586.6 147.5L587.1 147.2L587.6 147.0L588.1 146.7L588.6 146.4L589.1 146.2L589.6 145.9L590.1 145.6L590.6 145.3L591.1 144.9L591.6 144.5L592.1 144.1L592.6 143.6L593.1 143.1L593.6 142.5L594.1 141.8L594.6 141.1L595.1 140.4L595.6 139.6L596.1 138.8L596.6 137.9L597.1 137.0L597.6 136.1L598.1 135.2L598.6 134.3L599.1 133.3L599.6 132.4L600.1 131.5L600.6 130.5L601.1 129.6L601.6 128.7L602.1 127.9L602.6 127.0L603.1 126.3L603.6 125.5L604.1 124.9L604.6 124.2L605.1 123.7L605.6 123.2L606.1 122.7L606.6 122.4L607.1 122.1L607.6 121.9L608.1 121.8L608.6 121.8L609.1 121.8L609.6 121.8L610.1 121.9L610.6 122.1L611.1 122.2L611.6 122.4L612.1 122.6L612.6 122.7L613.1 122.8L613.6 122.8L614.1 122.8L614.6 122.8L615.1 122.7L615.6 122.6L616.1 122.5L616.6 122.4L617.1 122.3L617.6 122.2L618.1 122.1L618.6 122.0L619.1 121.9L619.6 121.8L620.1 121.8L620.6 121.7L621.1 121.7L621.6 121.6L622.1 121.6L622.6 121.5L623.1 121.4L623.6 121.3L624.1 121.2L624.6 121.1L625.1 120.9L625.6 120.7L626.1 120.5L626.6 120.3L627.1 120.0L627.6 119.7L628.1 119.4L628.6 119.1L629.1 118.8L629.6 118.4L630.1 118.1L630.6 117.7L631.1 117.3L631.6 117.0L632.1 116.6L632.6 116.3L633.1 115.9L633.6 115.5L634.1 115.2L634.6 114.8L635.1 114.5L635.6 114.1L636.1 113.8L636.6 113.5L637.1 113.2L637.6 112.8L638.1 112.5L638.6 112.2L639.1 112.0L639.6 111.7L640.1 111.4L640.6 111.2L641.1 111.0L641.6 110.7L642.1 110.5L642.6 110.3L643.1 110.2L643.6 110.0L644.1 109.9L644.6 109.7L645.1 109.6L645.6 109.5L646.1 109.4L646.6 109.3L647.1 109.2L647.6 109.2L648.1 109.1L648.6 109.1L649.1 109.1L649.4 109.1L649.9 109.1L650.4 109.1L650.9 109.2L651.4 109.2L651.9 109.3L652.4 109.3L652.9 109.4L653.4 109.5L653.9 109.6L654.4 109.7L654.9 109.9L655.4 110.0L655.9 110.2L656.4 110.3L656.9 110.5L657.4 110.7L657.9 110.9L658.4 111.1L658.9 111.4L659.4 111.6L659.9 111.8L660.4 112.1L660.9 112.4L661.4 112.7L661.9 112.9L662.4 113.2L662.9 113.5L663.4 113.9L663.9 114.2L664.4 114.5L664.9 114.8L665.4 115.2L665.9 115.5L666.4 115.9L666.9 116.2L667.4 116.6L667.9 117.0L668.4 117.3L668.9 117.7L669.4 118.1L669.9 118.5L670.4 119.0L670.9 119.4L671.4 119.8L671.9 120.3L672.4 120.8L672.9 121.3L673.4 121.7L673.9 122.2L674.4 122.7L674.9 123.2L675.4 123.7L675.9 124.2L676.4 124.7L676.9 125.2L677.4 125.6L677.9 126.1L678.4 126.5L678.9 126.9L679.4 127.3L679.9 127.6L680.4 128.0L680.9 128.3L681.4 128.5L681.9 128.8L682.4 129.0L682.9 129.2L683.4 129.3L683.9 129.4L684.4 129.5L684.9 129.6L685.4 129.6L685.9 129.6L686.4 129.6L686.9 129.6L687.4 129.6L687.9 129.6L688.4 129.6L688.9 129.5L689.4 129.5L689.9 129.5L690.4 129.5L690.9 129.6L691.4 129.6L691.9 129.7L692.4 129.8L692.9 129.9L693.4 130.1L693.9 130.3L694.4 130.5L694.9 130.7L695.4 131.0L695.9 131.3L696.4 131.6L696.9 132.0L697.4 132.4L697.9 132.8L698.4 133.2L698.9 133.7L699.4 134.1L699.9 134.6L700.4 135.1L700.9 135.6L701.4 136.1L701.9 136.6L702.4 137.1L702.9 137.6L703.4 138.1L703.9 138.6L704.4 139.1L704.9 139.6L705.4 140.1L705.9 140.5L706.4 141.0L706.9 141.5L707.4 141.9L707.9 142.4L708.4 142.8L708.9 143.2L709.4 143.6L709.9 144.0L710.4 144.4L710.9 144.7L711.4 145.1L711.9 145.4L712.4 145.7L712.9 146.1L713.4 146.3L713.9 146.6L714.4 146.9L714.9 147.2L715.4 147.4L715.9 147.6L716.4 147.9L716.9 148.1L717.4 148.3L717.9 148.4L718.4 148.6L718.9 148.7L719.4 148.8L719.9 148.9L720.4 148.9L720.9 148.9L721.4 148.9L721.9 148.8L722.4 148.7L722.9 148.6L723.4 148.4L723.9 148.2L724.4 148.0L724.9 147.7L725.4 147.5L725.9 147.2L726.4 147.0L726.9 146.7L727.4 146.4L727.9 146.2L728.4 145.9" class="c" stroke="#0000ff" stroke-width="1.2"/>
<path d="M-35.0 191.6L-34.5 191.6L-34.0 191.6L-33.5 191.5L-33.0 191.5L-32.5 191.4L-32.0 191.3L-31.5 191.1L-31.0 191.0L-30.5 190.8L-30.0 190.7L-29.5 190.5L-29.0 190.3L-28.5 190.1L-28.0 189.8L-27.5 189.6L-27.0 189.3L-26.5 189.0L-26.0 188.7L-25.5 188.4L-25.0 188.1L-24.5 187.8L-24.0 187.4L-23.5 187.1L-23.0 186.7L-22.5 186.4L-22.0 186.0L-21.5 185.6L-21.0 185.3L-20.5 184.9L-20.0 184.5L-19.5 184.1L-19.0 183.7L-18.5 183.2L-18.0 182.8L-17.5 182.4L-17.0 182.0L-16.5 181.5L-16.0 181.1L-15.5 180.6L-15.0 180.2L-14.5 179.7L-14.0 179.3L-13.5 178.8L-13.0 178.3L-12.5 177.8L-12.0 177.3L-11.5 176.8L-11.0 176.3L-10.5 175.8L-10.0 175.2L-9.5 174.6L-9.0 174.0L-8.5 173.4L-8.0 172.8L-7.5 172.2L-7.0 171.6L-6.5 171.0L-6.0 170.4L-5.5 169.8L-5.0 169.3L-4.5 168.8L-4.0 168.3L-3.5 167.7L-3.0 167.2L-2.5 166.7L-2.0 166.1L-1.5 165.5L-1.0 164.8L-0.5 164.1L0.0 163.3L0.5 162.4L1.0 161.4L1.5 160.4L2.0 159.4L2.5 158.4L3.0 157.3L3.5 156.3L4.0 155.3L4.5 154.4L5.0 153.4L5.5 152.5L6.0 151.6L6.5 150.7L7.0 149.7L7.5 148.7L8.0 147.6L8.5 146.4L9.0 145.1L9.5 143.8L10.0 142.5L10.5 141.0L11.0 139.6L11.5 138.1L12.0 136.5L12.5 134.9L13.0 133.3L13.5 131.6L14.0 130.0L14.5 128.3L15.0 126.7L15.5 125.1L16.0 123.5L16.5 122.0L17.0 120.5L17.5 119.1L18.0 117.8L18.5 116.4L19.0 115.1L19.5 113.9L20.0 112.6L20.5 111.3L21.0 110.0L21.5 108.7L22.0 107.4L22.5 106.0L23.0 104.7L23.5 103.4L24.0 102.1L24.5 100.8L25.0 99.5L25.5 98.3L26.0 97.2L26.5 96.1L27.0 95.1L27.5 94.1L28.0 93.2L28.5 92.4L29.0 91.6L29.5 90.9L30.0 90.2L30.5 89.6L31.0 89.1L31.5 88.6L32.0 88.2L32.5 87.8L33.0 87.5L33.5 87.2L34.0 86.9L34.5 86.7L35.0 86.5L35.5 86.3L36.0 86.2L36.5 86.1L37.0 86.0L37.5 85.9L38.0 85.8L38.5 85.8L39.0 85.8L39.5 85.8L40.0 85.9L40.5 86.0L41.0 86.1L41.5 86.3L42.0 86.5L42.5 86.7L43.0 87.0L43.5 87.3L44.0 87.6L44.5 87.9L45.0 88.3L45.5 88.6L46.0 89.0L46.5 89.5L47.0 89.9L47.5 90.4L48.0 91.0L48.5 91.5L49.0 92.2L49.5 92.8L50.0 93.5L50.5 94.3L51.0 95.2L51.5 96.1L52.0 97.1L52.5 98.2L53.0 99.4L53.5 100.7L54.0 102.2L54.5 103.7L55.0 105.3L55.5 106.9L56.0 108.5L56.5 110.0L57.0 111.6L57.5 113.2L58.0 114.8L58.5 116.3L59.0 117.9L59.5 119.5L60.0 121.0L60.5 122.6L61.0 124.2L61.5 125.8L62.0 127.3L62.5 128.8L63.0 130.3L63.5 131.8L64.0 133.2L64.5 134.6L65.0 136.0L65.5 137.2L66.0 138.5L66.5 139.7L67.0 140.9L67.5 142.0L68.0 143.2L68.5 144.3L69.0 145.4L69.5 146.5L70.0 147.6L70.5 148.7L71.0 149.9L71.5 151.0L72.0 152.1L72.5 153.2L73.0 154.4L73.5 155.5L74.0 156.6L74.5 157.7L75.0 158.8L75.5 159.9L76.0 161.0L76.5 162.1L77.0 163.1L77.5 164.2L78.0 165.2L78.5 166.2L79.0 167.2L79.5 168.1L80.0 169.1L80.5 170.0L81.0 170.9L81.5 171.8L82.0 172.7L82.5 173.5L83.0 174.3L83.5 175.1L84.0 175.9L84.5 176.7L85.0 177.5L85.5 178.2L86.0 178.9L86.5 179.6L87.0 180.3L87.5 181.0L88.0 181.6L88.5 182.3L89.0 182.9L89.5 183.5L90.0 184.0L90.5 184.6L91.0 185.1L91.5 185.6L92.0 186.1L92.5 186.6L93.0 187.0L93.5 187.5L94.0 187.9L94.5 188.2L95.0 188.6L95.5 188.9L96.0 189.2L96.5 189.5L97.0 189.8L97.5 190.0L98.0 190.2L98.5 190.4L99.0 190.6L99.5 190.8L100.0 191.0L100.5 191.1L101.0 191.2L101.5 191.3L102.0 191.4L102.5 191.5L103.0 191.6L103.5 191.6L104.0 191.6L104.5 191.6L105.0 191.6L105.5 191.5L106.0 191.5L106.5 191.4L107.0 191.3L107.5 191.1L108.0 191.0L108.5 190.8L109.0 190.7L109.5 190.5L110.0 190.3L110.5 190.1L111.0 189.8L111.5 189.6L112.0 189.3L112.5 189.0L113.0 188.7L113.5 188.4L114.0 188.1L114.5 187.8L115.0 187.4L115.5 187.1L116.0 186.7L116.5 186.4L117.0 186.0L117.5 185.6L118.0 185.3L118.5 184.9L119.0 184.5L119.5 184.1L120.0 183.7L120.5 183.2L121.0 182.8L121.5 182.4L122.0 182.0L122.5 181.5L123.0 181.1L123.5 180.6L124.0 180.2L124.5 179.7L125.0 179.3L125.5 178.8L126.0 178.3L126.5 177.8L127.0 177.3L127.5 176.8L128.0 176.3L128.5 175.8L129.0 175.2L129.5 174.6L130.0 174.0L130.5 173.4L131.0 172.8L131.5 172.2L132.0 171.6L132.5 171.0L133.0 170.4L133.5 169.8L134.0 169.3L134.5 168.8L135.0 168.3L135.5 167.7L136.0 167.2L136.5 166.7L137.0 166.1L137.5 165.5L138.0 164.8L138.5 164.1L139.0 163.3L139.5 162.4L140.0 161.4L140.5 160.4L141.0 159.4L141.5 158.4L142.0 157.3L142.5 156.3L143.0 155.3L143.5 154.4L144.0 153.4L144.5 152.5L145.0 151.6L145.5 150.7L146.0 149.7L146.5 148.7L147.0 147.6L147.5 146.4L148.0 145.1L148.5 143.8L149.0 142.5L149.5 141.0L150.0 139.6L150.5 138.1L151.0 136.5L151.5 134.9L152.0 133.3L152.5 131.6L153.0 130.0L153.5 128.3L154.0 126.7L154.5 125.1L155.0 123.5L155.5 122.0L156.0 120.5L156.5 119.1L157.0 117.8L157.5 116.4L158.0 115.1L158.5 113.9L159.0 112.6L159.5 111.3L160.0 110.0L160.5 108.7L161.0 107.4L161.5 106.0L162.0 104.7L162.5 103.4L163.0 102.1L163.5 100.8L164.0 99.5L164.5 98.3L165.0 97.2L165.5 96.1L166.0 95.1L166.5 94.1L167.0 93.2L167.5 92.4L168.0 91.6L168.5 90.9L169.0 90.2L169.5 89.6L170.0 89.1L170.5 88.6L171.0 88.2L171.5 87.8L172.0 87.5L172.5 87.2L173.0 86.9L173.5 86.7L174.0 86.5L174.5 86.3L175.0 86.2L175.5 86.1L176.0 86.0L176.5 85.9L177.0 85.8L177.5 85.8L178.0 85.8L178.5 85.8L179.0 85.9L179.5 86.0L180.0 86.1L180.5 86.3L181.0 86.5L181.5 86.7L182.0 87.0L182.5 87.3L183.0 87.6L183.5 87.9L184.0 88.3L184.5 88.6L185.0 89.0L185.5 89.5L186.0 89.9L186.5 90.4L187.0 91.0L187.5 91.5L188.0 92.2L188.5 92.8L189.0 93.5L189.5 94.3L190.0 95.2L190.5 96.1L191.0 97.1L191.5 98.2L192.0 99.4L192.5 100.7L193.0 102.2L193.5 103.7L194.0 105.3L194.5 106.9L195.0 108.5L195.5 110.0L196.0 111.6L196.5 113.2L197.0 114.8L197.5 116.3L198.0 117.9L198.5 119.5L199.0 121.0L199.5 122.6L200.0 124.2L200.5 125.8L201.0 127.3L201.5 128.8L202.0 130.3L202.5 131.8L203.0 133.2L203.5 134.6L204.0 136.0L204.5 137.2L205.0 138.5L205.5 139.7L206.0 140.9L206.5 142.0L207.0 143.2L207.5 144.3L208.0 145.4L208.5 146.5L209.0 147.6L209.5 148.7L210.0 149.9L210.5 151.0L211.0 152.1L211.5 153.2L212.0 154.4L212.5 155.5L213.0 156.6L213.5 157.7L214.0 158.8L214.5 159.9L215.0 161.0L215.5 162.1L216.0 163.1L216.5 164.2L217.0 165.2L217.5 166.2L218.0 167.2L218.5 168.1L219.0 169.1L219.5 170.0L220.0 170.9L220.5 171.8L221.0 172.7L221.5 173.5L222.0 174.3L222.5 175.1L223.0 175.9L223.5 176.7L224.0 177.5L224.5 178.2L225.0 178.9L225.5 179.6L226.0 180.3L226.5 181.0L227.0 181.6L227.5 182.3L228.0 182.9L228.5 183.5L229.0 184.0L229.5 184.6L230.0 185.1L230.5 185.6L231.0 186.1L231.5 186.6L232.0 187.0L232.5 187.5L233.0 187.9L233.5 188.2L234.0 188.6L234.5 188.9L235.0 189.2L235.5 189.5L236.0 189.8L236.5 190.0L237.0 190.2L237.5 190.4L238.0 190.6L238.5 190.8L239.0 191.0L239.5 191.1L240.0 191.2L240.5 191.3L241.0 191.4L241.5 191.5L242.0 191.6L242.5 191.6L243.0 191.6L243.5 191.6L244.0 191.6L244.5 191.5L245.0 191.5L245.5 191.4L246.0 191.3L246.5 191.1L247.0 191.0L247.5 190.8L248.0 190.7L248.5 190.5L249.0 190.3L249.5 190.1L250.0 189.8L250.5 189.6L251.0 189.3L251.5 189.0L252.0 188.7L252.5 188.4L253.0 188.1L253.5 187.8L254.0 187.4L254.5 187.1L255.0 186.7L255.5 186.4L256.0 186.0L256.5 185.6L257.0 185.3L257.5 184.9L258.0 184.5L258.5 184.1L259.0 183.7L259.5 183.2L260.0 182.8L260.5 182.4L261.0 182.0L261.5 181.5L262.0 181.1L262.5 180.6L263.0 180.2L263.5 179.7L264.0 179.3L264.5 178.8L265.0 178.3L265.5 177.8L266.0 177.3L266.5 176.8L267.0 176.3L267.5 175.8L268.0 175.2L268.5 174.6L269.0 174.0L269.5 173.4L270.0 172.8L270.5 172.2L271.0 171.6L271.5 171.0L272.0 170.4L272.5 169.8L273.0 169.3L273.5 168.8L274.0 168.3L274.5 167.7L275.0 167.2L275.5 166.7L276.0 166.1L276.5 165.5L277.0 164.8L277.5 164.1L278.0 163.3L278.5 162.4L279.0 161.4L279.5 160.4L280.0 159.4L280.5 158.4L281.0 157.3L281.5 156.3L282.0 155.3L282.5 154.4L283.0 153.4L283.5 152.5L284.0 151.6L284.5 150.7L285.0 149.7L285.5 148.7L286.0 147.6L286.5 146.4L287.0 145.1L287.5 143.8L288.0 142.5L288.5 141.0L289.0 139.6L289.5 138.1L290.0 136.5L290.5 134.9L291.0 133.3L291.5 131.6L292.0 130.0L292.5 128.3L293.0 126.7L293.5 125.1L294.0 123.5L294.5 122.0L295.0 120.5L295.5 119.1L296.0 117.8L296.5 116.4L297.0 115.1L297.5 113.9L298.0 112.6L298.5 111.3L299.0 110.0L299.5 108.7L300.0 107.4L300.5 106.0L301.0 104.7L301.5 103.4L302.0 102.1L302.5 100.8L303.0 99.5L303.5 98.3L304.0 97.2L304.5 96.1L305.0 95.1L305.5 94.1L306.0 93.2L306.5 92.4L307.0 91.6L307.5 90.9L308.0 90.2L308.5 89.6L309.0 89.1L309.5 88.6L310.0 88.2L310.5 87.8L311.0 87.5L311.5 87.2L312.0 86.9L312.5 86.7L313.0 86.5L313.5 86.3L314.0 86.2L314.5 86.1L315.0 86.0L315.5 85.9L316.0 85.8L316.5 85.8L317.0 85.8L317.5 85.8L318.0 85.9L318.5 86.0L319.0 86.1L319.5 86.3L320.0 86.5L320.5 86.7L321.0 87.0L321.5 87.3L322.0 87.6L322.5 87.9L323.0 88.3L323.5 88.6L324.0 89.0L324.5 89.5L325.0 89.9L325.5 90.4L326.0 91.0L326.5 91.5L327.0 92.2L327.5 92.8L328.0 93.5L328.5 94.3L329.0 95.2L329.5 96.1L330.0 97.1L330.5 98.2L331.0 99.4L331.5 100.7L332.0 102.2L332.5 103.7L333.0 105.3L333.5 106.9L334.0 108.5L334.5 110.0L335.0 111.6L335.5 113.2L336.0 114.8L336.5 116.3L337.0 117.9L337.5 119.5L338.0 121.0L338.5 122.6L339.0 124.2L339.5 125.8L340.0 127.3L340.5 128.8L341.0 130.3L341.5 131.8L342.0 133.2L342.5 134.6L343.0 136.0L343.5 137.2L344.0 138.5L344.5 139.7L345.0 140.9L345.5 142.0L346.0 143.2L346.5 144.3L347.0 145.4L347.5 146.5L348.0 147.6L348.5 148.7L349.0 149.9L349.5 151.0L350.0 152.1L350.5 153.2L351.0 154.4L351.5 155.5L352.0 156.6L352.5 157.7L353.0 158.8L353.5 159.9L354.0 161.0L354.5 162.1L355.0 163.1L355.5 164.2L356.0 165.2L356.5 166.2L357.0 167.2L357.5 168.1L358.0 169.1L358.5 170.0L359.0 170.9L359.5 171.8L360.0 172.7L360.5 173.5L361.0 174.3L361.5 175.1L362.0 175.9L362.5 176.7L363.0 177.5L363.5 178.2L364.0 178.9L364.5 179.6L365.0 180.3L365.5 181.0L366.0 181.6L366.5 182.3L367.0 182.9L367.5 183.5L368.0 184.0L368.5 184.6L369.0 185.1L369.5 185.6L370.0 186.1L370.5 186.6L371.0 187.0L371.5 187.5L372.0 187.9L372.5 188.2L373.0 188.6L373.5 188.9L374.0 189.2L374.5 189.5L375.0 189.8L375.5 190.0L376.0 190.2L376.5 190.4L377.0 190.6L377.5 190.8L378.0 191.0L378.5 191.1L379.0 191.2L379.5 191.3L380.0 191.4L380.5 191.5L381.0 191.6L381.5 191.6L382.0 191.6L382.5 191.6L383.0 191.6L383.5 191.5L384.0 191.5L384.5 191.4L385.0 191.3L385.5 191.1L386.0 191.0L386.5 190.8L387.0 190.7L387.5 190.5L388.0 190.3L388.5 190.1L389.0 189.8L389.5 189.6L390.0 189.3L390.5 189.0L391.0 188.7L391.5 188.4L392.0 188.1L392.5 187.8L393.0 187.4L393.5 187.1L394.0 186.7L394.5 186.4L395.0 186.0L395.5 185.6L396.0 185.3L396.5 184.9L397.0 184.5L397.5 184.1L398.0 183.7L398.5 183.2L399.0 182.8L399.5 182.4L400.0 182.0L400.5 181.5L401.0 181.1L401.5 180.6L402.0 180.2L402.5 179.7L403.0 179.3L403.5 178.8L404.0 178.3L404.5 177.8L405.0 177.3L405.5 176.8L406.0 176.3L406.5 175.8L407.0 175.2L407.5 174.6L408.0 174.0L408.5 173.4L409.0 172.8L409.5 172.2L410.0 171.6L410.5 171.0L411.0 170.4L411.5 169.8L412.0 169.3L412.5 168.8L413.0 168.3L413.5 167.7L414.0 167.2L414.5 166.7L415.0 166.1L415.5 165.5L416.0 164.8L416.5 164.1L417.0 163.3L417.5 162.4L418.0 161.4L418.5 160.4L419.0 159.4L419.5 158.4L420.0 157.3L420.5 156.3L421.0 155.3L421.5 154.4L422.0 153.4L422.5 152.5L423.0 151.6L423.5 150.7L424.0 149.7L424.5 148.7L425.0 147.6L425.5 146.4L426.0 145.1L426.5 143.8L427.0 142.5L427.5 141.0L428.0 139.6L428.5 138.1L429.0 136.5L429.5 134.9L430.0 133.3L430.5 131.6L431.0 130.0L431.5 128.3L432.0 126.7L432.5 125.1L433.0 123.5L433.5 122.0L434.0 120.5L434.5 119.1L435.0 117.8L435.5 116.4L436.0 115.1L436.5 113.9L437.0 112.6L437.5 111.3L438.0 110.0L438.5 108.7L439.0 107.4L439.5 106.0L440.0 104.7L440.5 103.4L441.0 102.1L441.5 100.8L442.0 99.5L442.5 98.3L443.0 97.2L443.5 96.1L444.0 95.1L444.5 94.1L445.0 93.2L445.5 92.4L446.0 91.6L446.5 90.9L447.0 90.2L447.5 89.6L448.0 89.1L448.5 88.6L449.0 88.2L449.5 87.8L450.0 87.5L450.5 87.2L451.0 86.9L451.5 86.7L452.0 86.5L452.5 86.3L453.0 86.2L453.5 86.1L454.0 86.0L454.5 85.9L455.0 85.8L455.5 85.8L456.0 85.8L456.5 85.8L457.0 85.9L457.5 86.0L458.0 86.1L458.5 86.3L459.0 86.5L459.5 86.7L460.0 87.0L460.5 87.3L461.0 87.6L461.5 87.9L462.0 88.3L462.5 88.6L463.0 89.0L463.5 89.5L464.0 89.9L464.5 90.4L465.0 91.0L465.5 91.5L466.0 92.2L466.5 92.8L467.0 93.5L467.5 94.3L468.0 95.2L468.5 96.1L469.0 97.1L469.5 98.2L470.0 99.4L470.5 100.7L471.0 102.2L471.5 103.7L472.0 105.3L472.5 106.9L473.0 108.5L473.5 110.0L474.0 111.6L474.5 113.2L475.0 114.8L475.5 116.3L476.0 117.9L476.5 119.5L477.0 121.0L477.5 122.6L478.0 124.2L478.5 125.8L479.0 127.3L479.5 128.8L480.0 130.3L480.5 131.8L481.0 133.2L481.5 134.6L482.0 136.0L482.5 137.2L483.0 138.5L483.5 139.7L484.0 140.9L484.5 142.0L485.0 143.2L485.5 144.3L486.0 145.4L486.5 146.5L487.0 147.6L487.5 148.7L488.0 149.9L488.5 151.0L489.0 152.1L489.5 153.2L490.0 154.4L490.5 155.5L491.0 156.6L491.5 157.7L492.0 158.8L492.5 159.9L493.0 161.0L493.5 162.1L494.0 163.1L494.5 164.2L495.0 165.2L495.5 166.2L496.0 167.2L496.5 168.1L497.0 169.1L497.5 170.0L498.0 170.9L498.5 171.8L499.0 172.7L499.5 173.5L500.0 174.3L500.5 175.1L501.0 175.9L501.5 176.7L502.0 177.5L502.5 178.2L503.0 178.9L503.5 179.6L504.0 180.3L504.5 181.0L505.0 181.6L505.5 182.3L506.0 182.9L506.5 183.5L507.0 184.0L507.5 184.6L508.0 185.1L508.5 185.6L509.0 186.1L509.5 186.6L510.0 187.0L510.5 187.5L511.0 187.9L511.5 188.2L512.0 188.6L512.5 188.9L513.0 189.2L513.5 189.5L514.0 189.8L514.5 190.0L515.0 190.2L515.5 190.4L516.0 190.6L516.5 190.8L517.0 191.0L517.5 191.1L518.0 191.2L518.5 191.3L519.0 191.4L519.5 191.5L520.0 191.6L520.5 191.6L521.0 191.6L521.5 191.6L522.0 191.6L522.5 191.5L523.0 191.5L523.5 191.4L524.0 191.3L524.5 191.1L525.0 191.0L525.5 190.8L526.0 190.7L526.5 190.5L527.0 190.3L527.5 190.1L528.0 189.8L528.5 189.6L529.0 189.3L529.5 189.0L530.0 188.7L530.5 188.4L531.0 188.1L531.5 187.8L532.0 187.4L532.5 187.1L533.0 186.7L533.5 186.4L534.0 186.0L534.5 185.6L535.0 185.3L535.5 184.9L536.0 184.5L536.5 184.1L537.0 183.7L537.5 183.2L538.0 182.8L538.5 182.4L539.0 182.0L539.5 181.5L540.0 181.1L540.5 180.6L541.0 180.2L541.5 179.7L542.0 179.3L542.5 178.8L543.0 178.3L543.5 177.8L544.0 177.3L544.5 176.8L545.0 176.3L545.5 175.8L546.0 175.2L546.5 174.6L547.0 174.0L547.5 173.4L548.0 172.8L548.5 172.2L549.0 171.6L549.5 171.0L550.0 170.4L550.5 169.8L551.0 169.3L551.5 168.8L552.0 168.3L552.5 167.7L553.0 167.2L553.5 166.7L554.0 166.1L554.5 165.5L555.0 164.8L555.5 164.1L556.0 163.3L556.5 162.4L557.0 161.4L557.5 160.4L558.0 159.4L558.5 158.4L559.0 157.3L559.5 156.3L560.0 155.3L560.5 154.4L561.0 153.4L561.5 152.5L562.0 151.6L562.5 150.7L563.0 149.7L563.5 148.7L564.0 147.6L564.5 146.4L565.0 145.1L565.5 143.8L566.0 142.5L566.5 141.0L567.0 139.6L567.5 138.1L568.0 136.5L568.5 134.9L569.0 133.3L569.5 131.6L570.0 130.0L570.5 128.3L571.0 126.7L571.5 125.1L572.0 123.5L572.5 122.0L573.0 120.5L573.5 119.1L574.0 117.8L574.5 116.4L575.0 115.1L575.5 113.9L576.0 112.6L576.5 111.3L577.0 110.0L577.5 108.7L578.0 107.4L578.5 106.0L579.0 104.7L579.5 103.4L580.0 102.1L580.5 100.8L581.0 99.5L581.5 98.3L582.0 97.2L582.5 96.1L583.0 95.1L583.5 94.1L584.0 93.2L584.5 92.4L585.0 91.6L585.5 90.9L586.0 90.2L586.5 89.6L587.0 89.1L587.5 88.6L588.0 88.2L588.5 87.8L589.0 87.5L589.5 87.2L590.0 86.9L590.5 86.7L591.0 86.5L591.5 86.3L592.0 86.2L592.5 86.1L593.0 86.0L593.5 85.9L594.0 85.8L594.5 85.8L595.0 85.8L595.5 85.8L596.0 85.9L596.5 86.0L597.0 86.1L597.5 86.3L598.0 86.5L598.5 86.7L599.0 87.0L599.5 87.3L600.0 87.6L600.5 87.9L601.0 88.3L601.5 88.6L602.0 89.0L602.5 89.5L603.0 89.9L603.5 90.4L604.0 91.0L604.5 91.5L605.0 92.2L605.5 92.8L606.0 93.5L606.5 94.3L607.0 95.2L607.5 96.1L608.0 97.1L608.5 98.2L609.0 99.4L609.5 100.7L610.0 102.2L610.5 103.7L611.0 105.3L611.5 106.9L612.0 108.5L612.5 110.0L613.0 111.6L613.5 113.2L614.0 114.8L614.5 116.3L615.0 117.9L615.5 119.5L616.0 121.0L616.5 122.6L617.0 124.2L617.5 125.8L618.0 127.3L618.5 128.8L619.0 130.3L619.5 131.8L620.0 133.2L620.5 134.6L621.0 136.0L621.5 137.2L622.0 138.5L622.5 139.7L623.0 140.9L623.5 142.0L624.0 143.2L624.5 144.3L625.0 145.4L625.5 146.5L626.0 147.6L626.5 148.7L627.0 149.9L627.5 151.0L628.0 152.1L628.5 153.2L629.0 154.4L629.5 155.5L630.0 156.6L630.5 157.7L631.0 158.8L631.5 159.9L632.0 161.0L632.5 162.1L633.0 163.1L633.5 164.2L634.0 165.2L634.5 166.2L635.0 167.2L635.5 168.1L636.0 169.1L636.5 170.0L637.0 170.9L637.5 171.8L638.0 172.7L638.5 173.5L639.0 174.3L639.5 175.1L640.0 175.9L640.5 176.7L641.0 177.5L641.5 178.2L642.0 178.9L642.5 179.6L643.0 180.3L643.5 181.0L644.0 181.6L644.5 182.3L645.0 182.9L645.5 183.5L646.0 184.0L646.5 184.6L647.0 185.1L647.5 185.6L648.0 186.1L648.5 186.6L649.0 187.0L649.5 187.5L650.0 187.9L650.5 188.2L651.0 188.6L651.5 188.9L652.0 189.2L652.5 189.5L653.0 189.8L653.5 190.0L654.0 190.2L654.5 190.4L655.0 190.6L655.5 190.8L656.0 191.0L656.5 191.1L657.0 191.2L657.5 191.3L658.0 191.4L658.5 191.5L659.0 191.6L659.5 191.6L660.0 191.6L660.5 191.6L661.0 191.6L661.5 191.5L662.0 191.5L662.5 191.4L663.0 191.3L663.5 191.1L664.0 191.0L664.5 190.8L665.0 190.7L665.5 190.5L666.0 190.3L666.5 190.1L667.0 189.8L667.5 189.6L668.0 189.3L668.5 189.0L669.0 188.7L669.5 188.4L670.0 188.1L670.5 187.8L671.0 187.4L671.5 187.1L672.0 186.7L672.5 186.4L673.0 186.0L673.5 185.6L674.0 185.3L674.5 184.9L675.0 184.5L675.5 184.1L676.0 183.7L676.5 183.2L677.0 182.8L677.5 182.4L678.0 182.0L678.5 181.5L679.0 181.1L679.5 180.6L680.0 180.2L680.5 179.7L681.0 179.3L681.5 178.8L682.0 178.3L682.5 177.8L683.0 177.3L683.5 176.8L684.0 176.3L684.5 175.8L685.0 175.2L685.5 174.6L686.0 174.0L686.5 173.4L687.0 172.8L687.5 172.2L688.0 171.6L688.5 171.0L689.0 170.4L689.5 169.8L690.0 169.3L690.5 168.8L691.0 168.3L691.5 167.7L692.0 167.2L692.5 166.7L693.0 166.1L693.5 165.5L694.0 164.8L694.5 164.1L695.0 163.3L695.5 162.4L696.0 161.4L696.5 160.4L697.0 159.4L697.5 158.4L698.0 157.3L698.5 156.3L699.0 155.3L699.5 154.4L700.0 153.4L700.5 152.5L701.0 151.6L701.5 150.7L702.0 149.7L702.5 148.7L703.0 147.6L703.5 146.4L704.0 145.1L704.5 143.8L705.0 142.5L705.5 141.0L706.0 139.6L706.5 138.1L707.0 136.5L707.5 134.9L708.0 133.3L708.5 131.6L709.0 130.0L709.5 128.3L710.0 126.7L710.5 125.1L711.0 123.5L711.5 122.0L712.0 120.5L712.5 119.1L713.0 117.8L713.5 116.4L714.0 115.1L714.5 113.9L715.0 112.6L715.5 111.3L716.0 110.0L716.5 108.7L717.0 107.4L717.5 106.0L718.0 104.7L718.5 103.4L719.0 102.1L719.5 100.8L720.0 99.5L720.5 98.3L721.0 97.2L721.5 96.1L722.0 95.1L722.5 94.1L723.0 93.2L723.5 92.4L724.0 91.6L724.5 90.9L725.0 90.2L725.5 89.6L726.0 89.1L726.5 88.6L727.0 88.2L727.5 87.8L728.0 87.5L728.5 87.2" class="c" stroke="#008000" stroke-width="1.25"/>
<path d="M-60.1 44.1L-59.6 43.7L-59.1 43.4L-58.6 43.2L-58.1 43.0L-57.6 42.8L-57.1 42.7L-56.6 42.6L-56.1 42.6L-55.6 42.6L-55.1 42.7L-54.6 42.9L-54.1 43.1L-53.6 43.3L-53.1 43.7L-52.6 44.0L-52.1 44.5L-51.6 45.0L-51.1 45.6L-50.6 46.3L-50.1 47.0L-49.6 47.8L-49.1 48.7L-48.6 49.6L-48.1 50.6L-47.6 51.7L-47.1 52.8L-46.6 54.0L-46.1 55.3L-45.6 56.6L-45.1 57.9L-44.6 59.3L-44.1 60.7L-43.6 62.1L-43.1 63.7L-42.6 65.2L-42.1 66.8L-41.6 68.4L-41.1 70.1L-40.6 71.8L-40.1 73.6L-39.6 75.4L-39.1 77.2L-38.6 79.1L-38.1 81.0L-37.6 82.9L-37.1 84.9L-36.6 86.9L-36.1 88.8L-35.6 90.8L-35.1 92.8L-34.6 94.8L-34.1 96.8L-33.6 98.7L-33.1 100.7L-32.6 102.7L-32.1 104.7L-31.6 106.7L-31.1 108.8L-30.6 110.8L-30.1 112.9L-29.6 115.0L-29.1 117.1L-28.6 119.2L-28.1 121.3L-27.6 123.4L-27.1 125.5L-26.6 127.7L-26.1 129.8L-25.6 131.9L-25.1 134.0L-24.6 136.2L-24.1 138.3L-23.6 140.5L-23.1 142.7L-22.6 144.9L-22.1 147.2L-21.6 149.5L-21.1 151.9L-20.6 154.2L-20.1 156.5L-19.6 158.9L-19.1 161.2L-18.6 163.4L-18.1 165.6L-17.6 167.8L-17.1 169.9L-16.6 171.9L-16.1 173.9L-15.6 175.9L-15.1 177.9L-14.6 179.9L-14.1 181.9L-13.6 183.9L-13.1 185.9L-12.6 187.9L-12.1 189.9L-11.6 192.0L-11.1 194.0L-10.6 196.0L-10.1 198.0L-9.6 200.0L-9.1 202.0L-8.6 204.0L-8.1 205.9L-7.6 207.8L-7.1 209.7L-6.6 211.6L-6.1 213.4L-5.6 215.2L-5.1 217.0L-4.6 218.7L-4.1 220.4L-3.6 222.1L-3.1 223.7L-2.6 225.2L-2.1 226.7L-1.6 228.1L-1.1 229.5L-0.6 230.8L-0.1 232.0L0.4 233.2L0.9 234.3L1.4 235.3L1.9 236.3L2.4 237.2L2.9 237.9L3.4 238.7L3.9 239.4L4.4 240.0L4.9 240.6L5.4 241.1L5.9 241.6L6.4 242.1L6.9 242.6L7.4 243.1L7.9 243.5L8.4 244.0L8.9 244.3L9.4 244.7L9.9 245.0L10.4 245.2L10.9 245.4L11.4 245.6L11.9 245.7L12.4 245.7L12.9 245.8L13.4 245.8L13.9 245.8L14.4 245.8L14.9 245.7L15.4 245.6L15.9 245.5L16.4 245.3L16.9 245.1L17.4 244.8L17.9 244.5L18.4 244.1L18.9 243.6L19.4 243.1L19.9 242.6L20.4 242.1L20.9 241.5L21.4 240.9L21.9 240.2L22.4 239.5L22.9 238.8L23.4 238.0L23.9 237.1L24.4 236.1L24.9 235.1L25.4 233.9L25.9 232.7L26.4 231.4L26.9 230.1L27.4 228.7L27.9 227.2L28.4 225.6L28.9 224.0L29.4 222.3L29.9 220.6L30.4 218.8L30.9 216.9L31.4 215.0L31.9 213.1L32.4 211.1L32.9 209.0L33.4 206.9L33.9 204.8L34.4 202.6L34.9 200.4L35.4 198.2L35.9 195.9L36.4 193.6L36.9 191.3L37.4 189.0L37.9 186.7L38.4 184.5L38.9 182.3L39.4 180.2L39.9 178.0L40.4 176.0L40.9 173.9L41.4 171.9L41.9 169.9L42.4 167.9L42.9 165.9L43.4 163.9L43.9 161.9L44.4 159.8L44.9 157.8L45.4 155.7L45.9 153.6L46.4 151.6L46.9 149.5L47.4 147.5L47.9 145.5L48.4 143.5L48.9 141.5L49.4 139.5L49.9 137.5L50.4 135.5L50.9 133.5L51.4 131.4L51.9 129.4L52.4 127.2L52.9 125.0L53.4 122.8L53.9 120.6L54.4 118.3L54.9 116.1L55.4 113.9L55.9 111.7L56.4 109.5L56.9 107.5L57.4 105.4L57.9 103.4L58.4 101.3L58.9 99.3L59.4 97.3L59.9 95.3L60.4 93.2L60.9 91.1L61.4 89.0L61.9 86.9L62.4 84.8L62.9 82.6L63.4 80.5L63.9 78.4L64.4 76.3L64.9 74.3L65.4 72.3L65.9 70.4L66.4 68.6L66.9 66.8L67.4 65.1L67.9 63.4L68.4 61.8L68.9 60.3L69.4 58.9L69.9 57.6L70.4 56.3L70.9 55.1L71.4 54.0L71.9 53.0L72.4 52.1L72.9 51.2L73.4 50.3L73.9 49.5L74.4 48.7L74.9 48.0L75.4 47.3L75.9 46.7L76.4 46.1L76.9 45.5L77.4 45.0L77.9 44.6L78.4 44.2L78.5 44.1L79.0 43.7L79.5 43.4L80.0 43.2L80.5 43.0L81.0 42.8L81.5 42.7L82.0 42.6L82.5 42.6L83.0 42.6L83.5 42.7L84.0 42.9L84.5 43.1L85.0 43.3L85.5 43.7L86.0 44.0L86.5 44.5L87.0 45.0L87.5 45.6L88.0 46.3L88.5 47.0L89.0 47.8L89.5 48.7L90.0 49.6L90.5 50.6L91.0 51.7L91.5 52.8L92.0 54.0L92.5 55.3L93.0 56.6L93.5 57.9L94.0 59.3L94.5 60.7L95.0 62.1L95.5 63.7L96.0 65.2L96.5 66.8L97.0 68.4L97.5 70.1L98.0 71.8L98.5 73.6L99.0 75.4L99.5 77.2L100.0 79.1L100.5 81.0L101.0 82.9L101.5 84.9L102.0 86.9L102.5 88.8L103.0 90.8L103.5 92.8L104.0 94.8L104.5 96.8L105.0 98.7L105.5 100.7L106.0 102.7L106.5 104.7L107.0 106.7L107.5 108.8L108.0 110.8L108.5 112.9L109.0 115.0L109.5 117.1L110.0 119.2L110.5 121.3L111.0 123.4L111.5 125.5L112.0 127.7L112.5 129.8L113.0 131.9L113.5 134.0L114.0 136.2L114.5 138.3L115.0 140.5L115.5 142.7L116.0 144.9L116.5 147.2L117.0 149.5L117.5 151.9L118.0 154.2L118.5 156.5L119.0 158.9L119.5 161.2L120.0 163.4L120.5 165.6L121.0 167.8L121.5 169.9L122.0 171.9L122.5 173.9L123.0 175.9L123.5 177.9L124.0 179.9L124.5 181.9L125.0 183.9L125.5 185.9L126.0 187.9L126.5 189.9L127.0 192.0L127.5 194.0L128.0 196.0L128.5 198.0L129.0 200.0L129.5 202.0L130.0 204.0L130.5 205.9L131.0 207.8L131.5 209.7L132.0 211.6L132.5 213.4L133.0 215.2L133.5 217.0L134.0 218.7L134.5 220.4L135.0 222.1L135.5 223.7L136.0 225.2L136.5 226.7L137.0 228.1L137.5 229.5L138.0 230.8L138.5 232.0L139.0 233.2L139.5 234.3L140.0 235.3L140.5 236.3L141.0 237.2L141.5 237.9L142.0 238.7L142.5 239.4L143.0 240.0L143.5 240.6L144.0 241.1L144.5 241.6L145.0 242.1L145.5 242.6L146.0 243.1L146.5 243.5L147.0 244.0L147.5 244.3L148.0 244.7L148.5 245.0L149.0 245.2L149.5 245.4L150.0 245.6L150.5 245.7L151.0 245.7L151.5 245.8L152.0 245.8L152.5 245.8L153.0 245.8L153.5 245.7L154.0 245.6L154.5 245.5L155.0 245.3L155.5 245.1L156.0 244.8L156.5 244.5L157.0 244.1L157.5 243.6L158.0 243.1L158.5 242.6L159.0 242.1L159.5 241.5L160.0 240.9L160.5 240.2L161.0 239.5L161.5 238.8L162.0 238.0L162.5 237.1L163.0 236.1L163.5 235.1L164.0 233.9L164.5 232.7L165.0 231.4L165.5 230.1L166.0 228.7L166.5 227.2L167.0 225.6L167.5 224.0L168.0 222.3L168.5 220.6L169.0 218.8L169.5 216.9L170.0 215.0L170.5 213.1L171.0 211.1L171.5 209.0L172.0 206.9L172.5 204.8L173.0 202.6L173.5 200.4L174.0 198.2L174.5 195.9L175.0 193.6L175.5 191.3L176.0 189.0L176.5 186.7L177.0 184.5L177.5 182.3L178.0 180.2L178.5 178.0L179.0 176.0L179.5 173.9L180.0 171.9L180.5 169.9L181.0 167.9L181.5 165.9L182.0 163.9L182.5 161.9L183.0 159.8L183.5 157.8L184.0 155.7L184.5 153.6L185.0 151.6L185.5 149.5L186.0 147.5L186.5 145.5L187.0 143.5L187.5 141.5L188.0 139.5L188.5 137.5L189.0 135.5L189.5 133.5L190.0 131.4L190.5 129.4L191.0 127.2L191.5 125.0L192.0 122.8L192.5 120.6L193.0 118.3L193.5 116.1L194.0 113.9L194.5 111.7L195.0 109.5L195.5 107.5L196.0 105.4L196.5 103.4L197.0 101.3L197.5 99.3L198.0 97.3L198.5 95.3L199.0 93.2L199.5 91.1L200.0 89.0L200.5 86.9L201.0 84.8L201.5 82.6L202.0 80.5L202.5 78.4L203.0 76.3L203.5 74.3L204.0 72.3L204.5 70.4L205.0 68.6L205.5 66.8L206.0 65.1L206.5 63.4L207.0 61.8L207.5 60.3L208.0 58.9L208.5 57.6L209.0 56.3L209.5 55.1L210.0 54.0L210.5 53.0L211.0 52.1L211.5 51.2L212.0 50.3L212.5 49.5L213.0 48.7L213.5 48.0L214.0 47.3L214.5 46.7L215.0 46.1L215.5 45.5L216.0 45.0L216.5 44.6L217.0 44.2L217.1 44.1L217.6 43.7L218.1 43.4L218.6 43.2L219.1 43.0L219.6 42.8L220.1 42.7L220.6 42.6L221.1 42.6L221.6 42.6L222.1 42.7L222.6 42.9L223.1 43.1L223.6 43.3L224.1 43.7L224.6 44.0L225.1 44.5L225.6 45.0L226.1 45.6L226.6 46.3L227.1 47.0L227.6 47.8L228.1 48.7L228.6 49.6L229.1 50.6L229.6 51.7L230.1 52.8L230.6 54.0L231.1 55.3L231.6 56.6L232.1 57.9L232.6 59.3L233.1 60.7L233.6 62.1L234.1 63.7L234.6 65.2L235.1 66.8L235.6 68.4L236.1 70.1L236.6 71.8L237.1 73.6L237.6 75.4L238.1 77.2L238.6 79.1L239.1 81.0L239.6 82.9L240.1 84.9L240.6 86.9L241.1 88.8L241.6 90.8L242.1 92.8L242.6 94.8L243.1 96.8L243.6 98.7L244.1 100.7L244.6 102.7L245.1 104.7L245.6 106.7L246.1 108.8L246.6 110.8L247.1 112.9L247.6 115.0L248.1 117.1L248.6 119.2L249.1 121.3L249.6 123.4L250.1 125.5L250.6 127.7L251.1 129.8L251.6 131.9L252.1 134.0L252.6 136.2L253.1 138.3L253.6 140.5L254.1 142.7L254.6 144.9L255.1 147.2L255.6 149.5L256.1 151.9L256.6 154.2L257.1 156.5L257.6 158.9L258.1 161.2L258.6 163.4L259.1 165.6L259.6 167.8L260.1 169.9L260.6 171.9L261.1 173.9L261.6 175.9L262.1 177.9L262.6 179.9L263.1 181.9L263.6 183.9L264.1 185.9L264.6 187.9L265.1 189.9L265.6 192.0L266.1 194.0L266.6 196.0L267.1 198.0L267.6 200.0L268.1 202.0L268.6 204.0L269.1 205.9L269.6 207.8L270.1 209.7L270.6 211.6L271.1 213.4L271.6 215.2L272.1 217.0L272.6 218.7L273.1 220.4L273.6 222.1L274.1 223.7L274.6 225.2L275.1 226.7L275.6 228.1L276.1 229.5L276.6 230.8L277.1 232.0L277.6 233.2L278.1 234.3L278.6 235.3L279.1 236.3L279.6 237.2L280.1 237.9L280.6 238.7L281.1 239.4L281.6 240.0L282.1 240.6L282.6 241.1L283.1 241.6L283.6 242.1L284.1 242.6L284.6 243.1L285.1 243.5L285.6 244.0L286.1 244.3L286.6 244.7L287.1 245.0L287.6 245.2L288.1 245.4L288.6 245.6L289.1 245.7L289.6 245.7L290.1 245.8L290.6 245.8L291.1 245.8L291.6 245.8L292.1 245.7L292.6 245.6L293.1 245.5L293.6 245.3L294.1 245.1L294.6 244.8L295.1 244.5L295.6 244.1L296.1 243.6L296.6 243.1L297.1 242.6L297.6 242.1L298.1 241.5L298.6 240.9L299.1 240.2L299.6 239.5L300.1 238.8L300.6 238.0L301.1 237.1L301.6 236.1L302.1 235.1L302.6 233.9L303.1 232.7L303.6 231.4L304.1 230.1L304.6 228.7L305.1 227.2L305.6 225.6L306.1 224.0L306.6 222.3L307.1 220.6L307.6 218.8L308.1 216.9L308.6 215.0L309.1 213.1L309.6 211.1L310.1 209.0L310.6 206.9L311.1 204.8L311.6 202.6L312.1 200.4L312.6 198.2L313.1 195.9L313.6 193.6L314.1 191.3L314.6 189.0L315.1 186.7L315.6 184.5L316.1 182.3L316.6 180.2L317.1 178.0L317.6 176.0L318.1 173.9L318.6 171.9L319.1 169.9L319.6 167.9L320.1 165.9L320.6 163.9L321.1 161.9L321.6 159.8L322.1 157.8L322.6 155.7L323.1 153.6L323.6 151.6L324.1 149.5L324.6 147.5L325.1 145.5L325.6 143.5L326.1 141.5L326.6 139.5L327.1 137.5L327.6 135.5L328.1 133.5L328.6 131.4L329.1 129.4L329.6 127.2L330.1 125.0L330.6 122.8L331.1 120.6L331.6 118.3L332.1 116.1L332.6 113.9L333.1 111.7L333.6 109.5L334.1 107.5L334.6 105.4L335.1 103.4L335.6 101.3L336.1 99.3L336.6 97.3L337.1 95.3L337.6 93.2L338.1 91.1L338.6 89.0L339.1 86.9L339.6 84.8L340.1 82.6L340.6 80.5L341.1 78.4L341.6 76.3L342.1 74.3L342.6 72.3L343.1 70.4L343.6 68.6L344.1 66.8L344.6 65.1L345.1 63.4L345.6 61.8L346.1 60.3L346.6 58.9L347.1 57.6L347.6 56.3L348.1 55.1L348.6 54.0L349.1 53.0L349.6 52.1L350.1 51.2L350.6 50.3L351.1 49.5L351.6 48.7L352.1 48.0L352.6 47.3L353.1 46.7L353.6 46.1L354.1 45.5L354.6 45.0L355.1 44.6L355.6 44.2L355.7 44.1L356.2 43.7L356.7 43.4L357.2 43.2L357.7 43.0L358.2 42.8L358.7 42.7L359.2 42.6L359.7 42.6L360.2 42.6L360.7 42.7L361.2 42.9L361.7 43.1L362.2 43.3L362.7 43.7L363.2 44.0L363.7 44.5L364.2 45.0L364.7 45.6L365.2 46.3L365.7 47.0L366.2 47.8L366.7 48.7L367.2 49.6L367.7 50.6L368.2 51.7L368.7 52.8L369.2 54.0L369.7 55.3L370.2 56.6L370.7 57.9L371.2 59.3L371.7 60.7L372.2 62.1L372.7 63.7L373.2 65.2L373.7 66.8L374.2 68.4L374.7 70.1L375.2 71.8L375.7 73.6L376.2 75.4L376.7 77.2L377.2 79.1L377.7 81.0L378.2 82.9L378.7 84.9L379.2 86.9L379.7 88.8L380.2 90.8L380.7 92.8L381.2 94.8L381.7 96.8L382.2 98.7L382.7 100.7L383.2 102.7L383.7 104.7L384.2 106.7L384.7 108.8L385.2 110.8L385.7 112.9L386.2 115.0L386.7 117.1L387.2 119.2L387.7 121.3L388.2 123.4L388.7 125.5L389.2 127.7L389.7 129.8L390.2 131.9L390.7 134.0L391.2 136.2L391.7 138.3L392.2 140.5L392.7 142.7L393.2 144.9L393.7 147.2L394.2 149.5L394.7 151.9L395.2 154.2L395.7 156.5L396.2 158.9L396.7 161.2L397.2 163.4L397.7 165.6L398.2 167.8L398.7 169.9L399.2 171.9L399.7 173.9L400.2 175.9L400.7 177.9L401.2 179.9L401.7 181.9L402.2 183.9L402.7 185.9L403.2 187.9L403.7 189.9L404.2 192.0L404.7 194.0L405.2 196.0L405.7 198.0L406.2 200.0L406.7 202.0L407.2 204.0L407.7 205.9L408.2 207.8L408.7 209.7L409.2 211.6L409.7 213.4L410.2 215.2L410.7 217.0L411.2 218.7L411.7 220.4L412.2 222.1L412.7 223.7L413.2 225.2L413.7 226.7L414.2 228.1L414.7 229.5L415.2 230.8L415.7 232.0L416.2 233.2L416.7 234.3L417.2 235.3L417.7 236.3L418.2 237.2L418.7 237.9L419.2 238.7L419.7 239.4L420.2 240.0L420.7 240.6L421.2 241.1L421.7 241.6L422.2 242.1L422.7 242.6L423.2 243.1L423.7 243.5L424.2 244.0L424.7 244.3L425.2 244.7L425.7 245.0L426.2 245.2L426.7 245.4L427.2 245.6L427.7 245.7L428.2 245.7L428.7 245.8L429.2 245.8L429.7 245.8L430.2 245.8L430.7 245.7L431.2 245.6L431.7 245.5L432.2 245.3L432.7 245.1L433.2 244.8L433.7 244.5L434.2 244.1L434.7 243.6L435.2 243.1L435.7 242.6L436.2 242.1L436.7 241.5L437.2 240.9L437.7 240.2L438.2 239.5L438.7 238.8L439.2 238.0L439.7 237.1L440.2 236.1L440.7 235.1L441.2 233.9L441.7 232.7L442.2 231.4L442.7 230.1L443.2 228.7L443.7 227.2L444.2 225.6L444.7 224.0L445.2 222.3L445.7 220.6L446.2 218.8L446.7 216.9L447.2 215.0L447.7 213.1L448.2 211.1L448.7 209.0L449.2 206.9L449.7 204.8L450.2 202.6L450.7 200.4L451.2 198.2L451.7 195.9L452.2 193.6L452.7 191.3L453.2 189.0L453.7 186.7L454.2 184.5L454.7 182.3L455.2 180.2L455.7 178.0L456.2 176.0L456.7 173.9L457.2 171.9L457.7 169.9L458.2 167.9L458.7 165.9L459.2 163.9L459.7 161.9L460.2 159.8L460.7 157.8L461.2 155.7L461.7 153.6L462.2 151.6L462.7 149.5L463.2 147.5L463.7 145.5L464.2 143.5L464.7 141.5L465.2 139.5L465.7 137.5L466.2 135.5L466.7 133.5L467.2 131.4L467.7 129.4L468.2 127.2L468.7 125.0L469.2 122.8L469.7 120.6L470.2 118.3L470.7 116.1L471.2 113.9L471.7 111.7L472.2 109.5L472.7 107.5L473.2 105.4L473.7 103.4L474.2 101.3L474.7 99.3L475.2 97.3L475.7 95.3L476.2 93.2L476.7 91.1L477.2 89.0L477.7 86.9L478.2 84.8L478.7 82.6L479.2 80.5L479.7 78.4L480.2 76.3L480.7 74.3L481.2 72.3L481.7 70.4L482.2 68.6L482.7 66.8L483.2 65.1L483.7 63.4L484.2 61.8L484.7 60.3L485.2 58.9L485.7 57.6L486.2 56.3L486.7 55.1L487.2 54.0L487.7 53.0L488.2 52.1L488.7 51.2L489.2 50.3L489.7 49.5L490.2 48.7L490.7 48.0L491.2 47.3L491.7 46.7L492.2 46.1L492.7 45.5L493.2 45.0L493.7 44.6L494.2 44.2L494.3 44.1L494.8 43.7L495.3 43.4L495.8 43.2L496.3 43.0L496.8 42.8L497.3 42.7L497.8 42.6L498.3 42.6L498.8 42.6L499.3 42.7L499.8 42.9L500.3 43.1L500.8 43.3L501.3 43.7L501.8 44.0L502.3 44.5L502.8 45.0L503.3 45.6L503.8 46.3L504.3 47.0L504.8 47.8L505.3 48.7L505.8 49.6L506.3 50.6L506.8 51.7L507.3 52.8L507.8 54.0L508.3 55.3L508.8 56.6L509.3 57.9L509.8 59.3L510.3 60.7L510.8 62.1L511.3 63.7L511.8 65.2L512.3 66.8L512.8 68.4L513.3 70.1L513.8 71.8L514.3 73.6L514.8 75.4L515.3 77.2L515.8 79.1L516.3 81.0L516.8 82.9L517.3 84.9L517.8 86.9L518.3 88.8L518.8 90.8L519.3 92.8L519.8 94.8L520.3 96.8L520.8 98.7L521.3 100.7L521.8 102.7L522.3 104.7L522.8 106.7L523.3 108.8L523.8 110.8L524.3 112.9L524.8 115.0L525.3 117.1L525.8 119.2L526.3 121.3L526.8 123.4L527.3 125.5L527.8 127.7L528.3 129.8L528.8 131.9L529.3 134.0L529.8 136.2L530.3 138.3L530.8 140.5L531.3 142.7L531.8 144.9L532.3 147.2L532.8 149.5L533.3 151.9L533.8 154.2L534.3 156.5L534.8 158.9L535.3 161.2L535.8 163.4L536.3 165.6L536.8 167.8L537.3 169.9L537.8 171.9L538.3 173.9L538.8 175.9L539.3 177.9L539.8 179.9L540.3 181.9L540.8 183.9L541.3 185.9L541.8 187.9L542.3 189.9L542.8 192.0L543.3 194.0L543.8 196.0L544.3 198.0L544.8 200.0L545.3 202.0L545.8 204.0L546.3 205.9L546.8 207.8L547.3 209.7L547.8 211.6L548.3 213.4L548.8 215.2L549.3 217.0L549.8 218.7L550.3 220.4L550.8 222.1L551.3 223.7L551.8 225.2L552.3 226.7L552.8 228.1L553.3 229.5L553.8 230.8L554.3 232.0L554.8 233.2L555.3 234.3L555.8 235.3L556.3 236.3L556.8 237.2L557.3 237.9L557.8 238.7L558.3 239.4L558.8 240.0L559.3 240.6L559.8 241.1L560.3 241.6L560.8 242.1L561.3 242.6L561.8 243.1L562.3 243.5L562.8 244.0L563.3 244.3L563.8 244.7L564.3 245.0L564.8 245.2L565.3 245.4L565.8 245.6L566.3 245.7L566.8 245.7L567.3 245.8L567.8 245.8L568.3 245.8L568.8 245.8L569.3 245.7L569.8 245.6L570.3 245.5L570.8 245.3L571.3 245.1L571.8 244.8L572.3 244.5L572.8 244.1L573.3 243.6L573.8 243.1L574.3 242.6L574.8 242.1L575.3 241.5L575.8 240.9L576.3 240.2L576.8 239.5L577.3 238.8L577.8 238.0L578.3 237.1L578.8 236.1L579.3 235.1L579.8 233.9L580.3 232.7L580.8 231.4L581.3 230.1L581.8 228.7L582.3 227.2L582.8 225.6L583.3 224.0L583.8 222.3L584.3 220.6L584.8 218.8L585.3 216.9L585.8 215.0L586.3 213.1L586.8 211.1L587.3 209.0L587.8 206.9L588.3 204.8L588.8 202.6L589.3 200.4L589.8 198.2L590.3 195.9L590.8 193.6L591.3 191.3L591.8 189.0L592.3 186.7L592.8 184.5L593.3 182.3L593.8 180.2L594.3 178.0L594.8 176.0L595.3 173.9L595.8 171.9L596.3 169.9L596.8 167.9L597.3 165.9L597.8 163.9L598.3 161.9L598.8 159.8L599.3 157.8L599.8 155.7L600.3 153.6L600.8 151.6L601.3 149.5L601.8 147.5L602.3 145.5L602.8 143.5L603.3 141.5L603.8 139.5L604.3 137.5L604.8 135.5L605.3 133.5L605.8 131.4L606.3 129.4L606.8 127.2L607.3 125.0L607.8 122.8L608.3 120.6L608.8 118.3L609.3 116.1L609.8 113.9L610.3 111.7L610.8 109.5L611.3 107.5L611.8 105.4L612.3 103.4L612.8 101.3L613.3 99.3L613.8 97.3L614.3 95.3L614.8 93.2L615.3 91.1L615.8 89.0L616.3 86.9L616.8 84.8L617.3 82.6L617.8 80.5L618.3 78.4L618.8 76.3L619.3 74.3L619.8 72.3L620.3 70.4L620.8 68.6L621.3 66.8L621.8 65.1L622.3 63.4L622.8 61.8L623.3 60.3L623.8 58.9L624.3 57.6L624.8 56.3L625.3 55.1L625.8 54.0L626.3 53.0L626.8 52.1L627.3 51.2L627.8 50.3L628.3 49.5L628.8 48.7L629.3 48.0L629.8 47.3L630.3 46.7L630.8 46.1L631.3 45.5L631.8 45.0L632.3 44.6L632.8 44.2L632.9 44.1L633.4 43.7L633.9 43.4L634.4 43.2L634.9 43.0L635.4 42.8L635.9 42.7L636.4 42.6L636.9 42.6L637.4 42.6L637.9 42.7L638.4 42.9L638.9 43.1L639.4 43.3L639.9 43.7L640.4 44.0L640.9 44.5L641.4 45.0L641.9 45.6L642.4 46.3L642.9 47.0L643.4 47.8L643.9 48.7L644.4 49.6L644.9 50.6L645.4 51.7L645.9 52.8L646.4 54.0L646.9 55.3L647.4 56.6L647.9 57.9L648.4 59.3L648.9 60.7L649.4 62.1L649.9 63.7L650.4 65.2L650.9 66.8L651.4 68.4L651.9 70.1L652.4 71.8L652.9 73.6L653.4 75.4L653.9 77.2L654.4 79.1L654.9 81.0L655.4 82.9L655.9 84.9L656.4 86.9L656.9 88.8L657.4 90.8L657.9 92.8L658.4 94.8L658.9 96.8L659.4 98.7L659.9 100.7L660.4 102.7L660.9 104.7L661.4 106.7L661.9 108.8L662.4 110.8L662.9 112.9L663.4 115.0L663.9 117.1L664.4 119.2L664.9 121.3L665.4 123.4L665.9 125.5L666.4 127.7L666.9 129.8L667.4 131.9L667.9 134.0L668.4 136.2L668.9 138.3L669.4 140.5L669.9 142.7L670.4 144.9L670.9 147.2L671.4 149.5L671.9 151.9L672.4 154.2L672.9 156.5L673.4 158.9L673.9 161.2L674.4 163.4L674.9 165.6L675.4 167.8L675.9 169.9L676.4 171.9L676.9 173.9L677.4 175.9L677.9 177.9L678.4 179.9L678.9 181.9L679.4 183.9L679.9 185.9L680.4 187.9L680.9 189.9L681.4 192.0L681.9 194.0L682.4 196.0L682.9 198.0L683.4 200.0L683.9 202.0L684.4 204.0L684.9 205.9L685.4 207.8L685.9 209.7L686.4 211.6L686.9 213.4L687.4 215.2L687.9 217.0L688.4 218.7L688.9 220.4L689.4 222.1L689.9 223.7L690.4 225.2L690.9 226.7L691.4 228.1L691.9 229.5L692.4 230.8L692.9 232.0L693.4 233.2L693.9 234.3L694.4 235.3L694.9 236.3L695.4 237.2L695.9 237.9L696.4 238.7L696.9 239.4L697.4 240.0L697.9 240.6L698.4 241.1L698.9 241.6L699.4 242.1L699.9 242.6L700.4 243.1L700.9 243.5L701.4 244.0L701.9 244.3L702.4 244.7L702.9 245.0L703.4 245.2L703.9 245.4L704.4 245.6L704.9 245.7L705.4 245.7L705.9 245.8L706.4 245.8L706.9 245.8L707.4 245.8L707.9 245.7L708.4 245.6L708.9 245.5L709.4 245.3L709.9 245.1L710.4 244.8L710.9 244.5L711.4 244.1L711.9 243.6L712.4 243.1L712.9 242.6L713.4 242.1L713.9 241.5L714.4 240.9L714.9 240.2L715.4 239.5L715.9 238.8L716.4 238.0L716.9 237.1L717.4 236.1L717.9 235.1L718.4 233.9L718.9 232.7L719.4 231.4L719.9 230.1L720.4 228.7L720.9 227.2L721.4 225.6L721.9 224.0L722.4 222.3L722.9 220.6L723.4 218.8L723.9 216.9L724.4 215.0L724.9 213.1L725.4 211.1L725.9 209.0L726.4 206.9L726.9 204.8L727.4 202.6L727.9 200.4L728.4 198.2" class="c" stroke="#ff0000" stroke-width="2.5"/>
</g>
<text transform="translate(75.80,43.00) scale(0.883448275862069,1)" fill="#0000ff" text-anchor="end">24.000</text>
<text transform="translate(75.80,61.00) scale(0.883448275862069,1)" fill="#0000ff" text-anchor="end">20.000</text>
<text transform="translate(75.80,79.00) scale(0.883448275862069,1)" fill="#0000ff" text-anchor="end">16.000</text>
<text transform="translate(75.80,97.00) scale(0.883448275862069,1)" fill="#0000ff" text-anchor="end">12.000</text>
<text transform="translate(75.80,115.00) scale(0.883448275862069,1)" fill="#0000ff" text-anchor="end">8.000</text>
<text transform="translate(75.80,133.00) scale(0.883448275862069,1)" fill="#0000ff" text-anchor="end">4.000</text>
<text transform="translate(75.80,151.00) scale(0.883448275862069,1)" fill="#0000ff" text-anchor="end">0.000</text>
<text transform="translate(75.80,169.00) scale(0.883448275862069,1)" fill="#0000ff" text-anchor="end">-4.000</text>
<text transform="translate(75.80,187.00) scale(0.883448275862069,1)" fill="#0000ff" text-anchor="end">-8.000</text>
<text transform="translate(75.80,205.00) scale(0.883448275862069,1)" fill="#0000ff" text-anchor="end">-12.000</text>
<text transform="translate(75.80,223.00) scale(0.883448275862069,1)" fill="#0000ff" text-anchor="end">-16.000</text>
<text transform="translate(75.80,241.00) scale(0.883448275862069,1)" fill="#0000ff" text-anchor="end">-20.000</text>
<text transform="translate(75.80,260.00) scale(0.883448275862069,1)" fill="#0000ff" text-anchor="end">-24.000</text>
<text transform="translate(77.70,269.00) scale(0.8882758620689656,1)" fill="#0000ff" text-anchor="start">399.0</text>
<rect x="109" y="257.5" width="40" height="14" fill="#fff"/>
<text transform="translate(127.70,269.00) scale(0.8979310344827587,1)" fill="#0000ff" text-anchor="middle">399.1u</text>
<text transform="translate(177.70,269.00) scale(0.8979310344827587,1)" fill="#0000ff" text-anchor="middle">399.2u</text>
<text transform="translate(227.70,269.00) scale(0.8979310344827587,1)" fill="#0000ff" text-anchor="middle">399.3u</text>
<text transform="translate(277.70,269.00) scale(0.8979310344827587,1)" fill="#0000ff" text-anchor="middle">399.4u</text>
<text transform="translate(327.70,269.00) scale(0.8979310344827587,1)" fill="#0000ff" text-anchor="middle">399.5u</text>
<text transform="translate(377.70,269.00) scale(0.8979310344827587,1)" fill="#0000ff" text-anchor="middle">399.6u</text>
<text transform="translate(427.70,269.00) scale(0.8979310344827587,1)" fill="#0000ff" text-anchor="middle">399.7u</text>
<text transform="translate(477.70,269.00) scale(0.8979310344827587,1)" fill="#0000ff" text-anchor="middle">399.8u</text>
<text transform="translate(527.70,269.00) scale(0.8979310344827587,1)" fill="#0000ff" text-anchor="middle">399.9u</text>
<text transform="translate(578.00,269.00) scale(0.8689655172413793,1)" fill="#0000ff" text-anchor="middle">400.0u</text>
<text transform="translate(77.70,284.90) scale(0.7820689655172414,1)" fill="#0000ff" text-anchor="start">v(IN)</text>
<rect x="78" y="286" width="25" height="1" fill="#0000ff" shape-rendering="crispEdges"/>
<text transform="translate(235.00,284.90) scale(0.84,1)" fill="#ff0000" text-anchor="start">v(OUT)</text>
<text transform="translate(405.00,284.90) scale(0.8689655172413793,1)" fill="#008000" text-anchor="start">v(C4)</text>
<text transform="translate(264.70,300.80) scale(0.8689655172413793,1)" fill="#0000ff" text-anchor="start">T</text>
<line x1="128.5" y1="313.0" x2="128.5" y2="529.0" class="g"/>
<line x1="178.5" y1="313.0" x2="178.5" y2="529.0" class="g"/>
<line x1="228.5" y1="313.0" x2="228.5" y2="529.0" class="g"/>
<line x1="278.5" y1="313.0" x2="278.5" y2="529.0" class="g"/>
<line x1="328.5" y1="313.0" x2="328.5" y2="529.0" class="g"/>
<line x1="378.5" y1="313.0" x2="378.5" y2="529.0" class="g"/>
<line x1="428.5" y1="313.0" x2="428.5" y2="529.0" class="g"/>
<line x1="478.5" y1="313.0" x2="478.5" y2="529.0" class="g"/>
<line x1="528.5" y1="313.0" x2="528.5" y2="529.0" class="g"/>
<line x1="79.0" y1="330.5" x2="578.5" y2="330.5" class="g"/>
<line x1="79.0" y1="348.5" x2="578.5" y2="348.5" class="g"/>
<line x1="79.0" y1="366.5" x2="578.5" y2="366.5" class="g"/>
<line x1="79.0" y1="384.5" x2="578.5" y2="384.5" class="g"/>
<line x1="79.0" y1="402.5" x2="578.5" y2="402.5" class="g"/>
<line x1="79.0" y1="420.5" x2="578.5" y2="420.5" class="g"/>
<line x1="79.0" y1="438.5" x2="578.5" y2="438.5" class="g"/>
<line x1="79.0" y1="456.5" x2="578.5" y2="456.5" class="g"/>
<line x1="79.0" y1="474.5" x2="578.5" y2="474.5" class="g"/>
<line x1="79.0" y1="492.5" x2="578.5" y2="492.5" class="g"/>
<line x1="79.0" y1="510.5" x2="578.5" y2="510.5" class="g"/>
<path d="M78.5 529.75V312.5H578.5V529.75" class="f"/>
<line x1="78.0" y1="529.25" x2="579.0" y2="529.25" stroke="#808080" stroke-width="1"/>
<clipPath id="c2"><rect x="78.0" y="312.5" width="500.0" height="216.5"/></clipPath>
<g clip-path="url(#c2)">
<path d="M-38.8 526.6L-12.8 526.6L-7.6 519.7L-2.8 514.8L0.1 510.3L1.2 501.1L2.5 492.2L4.0 474.1L5.6 456.2L7.2 438.1L9.0 420.3L10.9 402.2L13.7 384.1L17.8 366.2L20.0 361.6L22.6 358.9L24.8 361.6L26.7 366.2L32.2 384.1L36.8 402.2L41.6 420.3L45.7 427.2L49.8 432.2L50.8 438.1L51.8 456.2L52.9 474.1L54.2 492.2L55.4 505.9L56.5 512.4L63.4 519.7L70.7 526.6L99.8 526.6L100.0 526.6L126.0 526.6L131.2 519.7L136.0 514.8L138.9 510.3L140.0 501.1L141.3 492.2L142.8 474.1L144.4 456.2L146.0 438.1L147.8 420.3L149.7 402.2L152.5 384.1L156.6 366.2L158.8 361.6L161.4 358.9L163.6 361.6L165.5 366.2L171.0 384.1L175.6 402.2L180.4 420.3L184.5 427.2L188.6 432.2L189.6 438.1L190.6 456.2L191.7 474.1L193.0 492.2L194.2 505.9L195.3 512.4L202.2 519.7L209.5 526.6L238.6 526.6L238.8 526.6L264.8 526.6L270.0 519.7L274.8 514.8L277.7 510.3L278.8 501.1L280.1 492.2L281.6 474.1L283.2 456.2L284.8 438.1L286.6 420.3L288.5 402.2L291.3 384.1L295.4 366.2L297.6 361.6L300.2 358.9L302.4 361.6L304.3 366.2L309.8 384.1L314.4 402.2L319.2 420.3L323.3 427.2L327.4 432.2L328.4 438.1L329.4 456.2L330.5 474.1L331.8 492.2L333.0 505.9L334.1 512.4L341.0 519.7L348.3 526.6L377.4 526.6L377.6 526.6L403.6 526.6L408.8 519.7L413.6 514.8L416.5 510.3L417.6 501.1L418.9 492.2L420.4 474.1L422.0 456.2L423.6 438.1L425.4 420.3L427.3 402.2L430.1 384.1L434.2 366.2L436.4 361.6L439.0 358.9L441.2 361.6L443.1 366.2L448.6 384.1L453.2 402.2L458.0 420.3L462.1 427.2L466.2 432.2L467.2 438.1L468.2 456.2L469.3 474.1L470.6 492.2L471.8 505.9L472.9 512.4L479.8 519.7L487.1 526.6L516.2 526.6L516.4 526.6L542.4 526.6L547.6 519.7L552.4 514.8L555.3 510.3L556.4 501.1L557.7 492.2L559.2 474.1L560.8 456.2L562.4 438.1L564.2 420.3L566.1 402.2L568.9 384.1L573.0 366.2L575.2 361.6L577.8 358.9L580.0 361.6L581.9 366.2L587.4 384.1L592.0 402.2L596.8 420.3L600.9 427.2L605.0 432.2L606.0 438.1L607.0 456.2L608.1 474.1L609.4 492.2L610.6 505.9L611.7 512.4L618.6 519.7L625.9 526.6L655.0 526.6L655.2 526.6L681.2 526.6L686.4 519.7L691.2 514.8L694.1 510.3L695.2 501.1L696.5 492.2L698.0 474.1L699.6 456.2L701.2 438.1L703.0 420.3L704.9 402.2L707.7 384.1L711.8 366.2L714.0 361.6L716.6 358.9L718.8 361.6L720.7 366.2L726.2 384.1" class="c" stroke="#008000" stroke-width="2"/>
</g>
<text transform="translate(75.80,317.00) scale(0.883448275862069,1)" fill="#0000ff" text-anchor="end">60.000</text>
<text transform="translate(75.80,335.00) scale(0.883448275862069,1)" fill="#0000ff" text-anchor="end">55.000</text>
<text transform="translate(75.80,353.00) scale(0.883448275862069,1)" fill="#0000ff" text-anchor="end">50.000</text>
<text transform="translate(75.80,371.00) scale(0.883448275862069,1)" fill="#0000ff" text-anchor="end">45.000</text>
<text transform="translate(75.80,389.00) scale(0.883448275862069,1)" fill="#0000ff" text-anchor="end">40.000</text>
<text transform="translate(75.80,407.00) scale(0.883448275862069,1)" fill="#0000ff" text-anchor="end">35.000</text>
<text transform="translate(75.80,425.00) scale(0.883448275862069,1)" fill="#0000ff" text-anchor="end">30.000</text>
<text transform="translate(75.80,443.00) scale(0.883448275862069,1)" fill="#0000ff" text-anchor="end">25.000</text>
<text transform="translate(75.80,461.00) scale(0.883448275862069,1)" fill="#0000ff" text-anchor="end">20.000</text>
<text transform="translate(75.80,479.00) scale(0.883448275862069,1)" fill="#0000ff" text-anchor="end">15.000</text>
<text transform="translate(75.80,497.00) scale(0.883448275862069,1)" fill="#0000ff" text-anchor="end">10.000</text>
<text transform="translate(75.80,515.00) scale(0.883448275862069,1)" fill="#0000ff" text-anchor="end">5.000</text>
<text transform="translate(75.80,534.00) scale(0.883448275862069,1)" fill="#0000ff" text-anchor="end">0.000</text>
<text transform="translate(77.70,543.00) scale(0.8882758620689656,1)" fill="#0000ff" text-anchor="start">399.0</text>
<rect x="109" y="531.5" width="40" height="14" fill="#fff"/>
<text transform="translate(127.70,543.00) scale(0.8979310344827587,1)" fill="#0000ff" text-anchor="middle">399.1u</text>
<text transform="translate(177.70,543.00) scale(0.8979310344827587,1)" fill="#0000ff" text-anchor="middle">399.2u</text>
<text transform="translate(227.70,543.00) scale(0.8979310344827587,1)" fill="#0000ff" text-anchor="middle">399.3u</text>
<text transform="translate(277.70,543.00) scale(0.8979310344827587,1)" fill="#0000ff" text-anchor="middle">399.4u</text>
<text transform="translate(327.70,543.00) scale(0.8979310344827587,1)" fill="#0000ff" text-anchor="middle">399.5u</text>
<text transform="translate(377.70,543.00) scale(0.8979310344827587,1)" fill="#0000ff" text-anchor="middle">399.6u</text>
<text transform="translate(427.70,543.00) scale(0.8979310344827587,1)" fill="#0000ff" text-anchor="middle">399.7u</text>
<text transform="translate(477.70,543.00) scale(0.8979310344827587,1)" fill="#0000ff" text-anchor="middle">399.8u</text>
<text transform="translate(527.70,543.00) scale(0.8979310344827587,1)" fill="#0000ff" text-anchor="middle">399.9u</text>
<text transform="translate(578.00,543.00) scale(0.8689655172413793,1)" fill="#0000ff" text-anchor="middle">400.0u</text>
<text transform="translate(77.70,558.90) scale(0.8361379310344828,1)" fill="#008000" text-anchor="start">v(OUT1)</text>
<text transform="translate(264.70,574.80) scale(0.8689655172413793,1)" fill="#0000ff" text-anchor="start">T</text>
<line x1="128.5" y1="587.0" x2="128.5" y2="803.0" class="g"/>
<line x1="178.5" y1="587.0" x2="178.5" y2="803.0" class="g"/>
<line x1="228.5" y1="587.0" x2="228.5" y2="803.0" class="g"/>
<line x1="278.5" y1="587.0" x2="278.5" y2="803.0" class="g"/>
<line x1="328.5" y1="587.0" x2="328.5" y2="803.0" class="g"/>
<line x1="378.5" y1="587.0" x2="378.5" y2="803.0" class="g"/>
<line x1="428.5" y1="587.0" x2="428.5" y2="803.0" class="g"/>
<line x1="478.5" y1="587.0" x2="478.5" y2="803.0" class="g"/>
<line x1="528.5" y1="587.0" x2="528.5" y2="803.0" class="g"/>
<line x1="79.0" y1="605.5" x2="578.5" y2="605.5" class="g"/>
<line x1="79.0" y1="625.5" x2="578.5" y2="625.5" class="g"/>
<line x1="79.0" y1="645.5" x2="578.5" y2="645.5" class="g"/>
<line x1="79.0" y1="664.5" x2="578.5" y2="664.5" class="g"/>
<line x1="79.0" y1="684.5" x2="578.5" y2="684.5" class="g"/>
<line x1="79.0" y1="704.5" x2="578.5" y2="704.5" class="g"/>
<line x1="79.0" y1="724.5" x2="578.5" y2="724.5" class="g"/>
<line x1="79.0" y1="743.5" x2="578.5" y2="743.5" class="g"/>
<line x1="79.0" y1="763.5" x2="578.5" y2="763.5" class="g"/>
<line x1="79.0" y1="783.5" x2="578.5" y2="783.5" class="g"/>
<path d="M78.5 803.75V586.5H578.5V803.75" class="f"/>
<line x1="78.0" y1="803.25" x2="579.0" y2="803.25" stroke="#808080" stroke-width="1"/>
<clipPath id="c3"><rect x="78.0" y="586.5" width="500.0" height="216.5"/></clipPath>
<g clip-path="url(#c3)">
<path d="M-41.7 600.2L-36.6 604.6L-30.9 613.5L-26.1 624.8L-21.2 636.1L-17.2 648.2L-14.0 658.7L-12.7 666.8L-11.9 678.9L-10.4 684.1L-9.3 686.5L-5.2 696.2L-2.0 704.2L-0.7 712.3L-0.1 728.5L0.8 744.6L2.0 760.8L3.3 776.9L4.0 782.1L49.2 782.1L49.7 752.7L50.5 712.3L51.0 688.1L51.4 658.7L51.9 656.6L53.3 656.6L53.8 663.5L54.6 682.9L55.8 712.3L57.0 722.8L58.6 718.8L60.2 710.7L62.6 696.2L64.3 684.1L65.9 673.2L67.5 663.5L68.0 661.1L69.2 662.7L70.8 658.7L72.9 650.6L74.5 645.3L77.2 634.5L79.7 625.3L82.9 615.1L86.9 607.0L91.8 601.8L94.7 600.5L97.1 600.2L102.2 604.6L107.9 613.5L112.7 624.8L117.6 636.1L121.6 648.2L124.8 658.7L126.1 666.8L126.9 678.9L128.4 684.1L129.5 686.5L133.6 696.2L136.8 704.2L138.1 712.3L138.7 728.5L139.6 744.6L140.8 760.8L142.1 776.9L142.8 782.1L188.0 782.1L188.5 752.7L189.3 712.3L189.8 688.1L190.2 658.7L190.7 656.6L192.1 656.6L192.6 663.5L193.4 682.9L194.6 712.3L195.8 722.8L197.4 718.8L199.0 710.7L201.4 696.2L203.1 684.1L204.7 673.2L206.3 663.5L206.8 661.1L208.0 662.7L209.6 658.7L211.7 650.6L213.3 645.3L216.0 634.5L218.5 625.3L221.7 615.1L225.7 607.0L230.6 601.8L233.5 600.5L235.9 600.2L241.0 604.6L246.7 613.5L251.5 624.8L256.4 636.1L260.4 648.2L263.6 658.7L264.9 666.8L265.7 678.9L267.2 684.1L268.3 686.5L272.4 696.2L275.6 704.2L276.9 712.3L277.5 728.5L278.4 744.6L279.6 760.8L280.9 776.9L281.6 782.1L326.8 782.1L327.3 752.7L328.1 712.3L328.6 688.1L329.0 658.7L329.5 656.6L330.9 656.6L331.4 663.5L332.2 682.9L333.4 712.3L334.6 722.8L336.2 718.8L337.8 710.7L340.2 696.2L341.9 684.1L343.5 673.2L345.1 663.5L345.6 661.1L346.8 662.7L348.4 658.7L350.5 650.6L352.1 645.3L354.8 634.5L357.3 625.3L360.5 615.1L364.5 607.0L369.4 601.8L372.3 600.5L374.7 600.2L379.8 604.6L385.5 613.5L390.3 624.8L395.2 636.1L399.2 648.2L402.4 658.7L403.7 666.8L404.5 678.9L406.0 684.1L407.1 686.5L411.2 696.2L414.4 704.2L415.7 712.3L416.3 728.5L417.2 744.6L418.4 760.8L419.7 776.9L420.4 782.1L465.6 782.1L466.1 752.7L466.9 712.3L467.4 688.1L467.8 658.7L468.3 656.6L469.7 656.6L470.2 663.5L471.0 682.9L472.2 712.3L473.4 722.8L475.0 718.8L476.6 710.7L479.0 696.2L480.7 684.1L482.3 673.2L483.9 663.5L484.4 661.1L485.6 662.7L487.2 658.7L489.3 650.6L490.9 645.3L493.6 634.5L496.1 625.3L499.3 615.1L503.3 607.0L508.2 601.8L511.1 600.5L513.5 600.2L518.6 604.6L524.3 613.5L529.1 624.8L534.0 636.1L538.0 648.2L541.2 658.7L542.5 666.8L543.3 678.9L544.8 684.1L545.9 686.5L550.0 696.2L553.2 704.2L554.5 712.3L555.1 728.5L556.0 744.6L557.2 760.8L558.5 776.9L559.2 782.1L604.4 782.1L604.9 752.7L605.7 712.3L606.2 688.1L606.6 658.7L607.1 656.6L608.5 656.6L609.0 663.5L609.8 682.9L611.0 712.3L612.2 722.8L613.8 718.8L615.4 710.7L617.8 696.2L619.5 684.1L621.1 673.2L622.7 663.5L623.2 661.1L624.4 662.7L626.0 658.7L628.1 650.6L629.7 645.3L632.4 634.5L634.9 625.3L638.1 615.1L642.1 607.0L647.0 601.8L649.9 600.5L652.3 600.2L657.4 604.6L663.1 613.5L667.9 624.8L672.8 636.1L676.8 648.2L680.0 658.7L681.3 666.8L682.1 678.9L683.6 684.1L684.7 686.5L688.8 696.2L692.0 704.2L693.3 712.3L693.9 728.5L694.8 744.6L696.0 760.8L697.3 776.9L698.0 782.1" class="c" stroke="#ff00ff" stroke-width="2"/>
</g>
<text transform="translate(75.80,591.00) scale(0.883448275862069,1)" fill="#0000ff" text-anchor="end">1000.000m</text>
<text transform="translate(75.80,610.00) scale(0.883448275862069,1)" fill="#0000ff" text-anchor="end">900.000m</text>
<text transform="translate(75.80,630.00) scale(0.883448275862069,1)" fill="#0000ff" text-anchor="end">800.000m</text>
<text transform="translate(75.80,650.00) scale(0.883448275862069,1)" fill="#0000ff" text-anchor="end">700.000m</text>
<text transform="translate(75.80,669.00) scale(0.883448275862069,1)" fill="#0000ff" text-anchor="end">600.000m</text>
<text transform="translate(75.80,689.00) scale(0.883448275862069,1)" fill="#0000ff" text-anchor="end">500.000m</text>
<text transform="translate(75.80,709.00) scale(0.883448275862069,1)" fill="#0000ff" text-anchor="end">400.000m</text>
<text transform="translate(75.80,729.00) scale(0.883448275862069,1)" fill="#0000ff" text-anchor="end">300.000m</text>
<text transform="translate(75.80,748.00) scale(0.883448275862069,1)" fill="#0000ff" text-anchor="end">200.000m</text>
<text transform="translate(75.80,768.00) scale(0.883448275862069,1)" fill="#0000ff" text-anchor="end">100.000m</text>
<text transform="translate(75.80,788.00) scale(0.883448275862069,1)" fill="#0000ff" text-anchor="end">0.000m</text>
<text transform="translate(75.80,808.00) scale(0.883448275862069,1)" fill="#0000ff" text-anchor="end">-100.000m</text>
<text transform="translate(77.70,817.00) scale(0.8882758620689656,1)" fill="#0000ff" text-anchor="start">399.0</text>
<rect x="109" y="805.5" width="40" height="14" fill="#fff"/>
<text transform="translate(127.70,817.00) scale(0.8979310344827587,1)" fill="#0000ff" text-anchor="middle">399.1u</text>
<text transform="translate(177.70,817.00) scale(0.8979310344827587,1)" fill="#0000ff" text-anchor="middle">399.2u</text>
<text transform="translate(227.70,817.00) scale(0.8979310344827587,1)" fill="#0000ff" text-anchor="middle">399.3u</text>
<text transform="translate(277.70,817.00) scale(0.8979310344827587,1)" fill="#0000ff" text-anchor="middle">399.4u</text>
<text transform="translate(327.70,817.00) scale(0.8979310344827587,1)" fill="#0000ff" text-anchor="middle">399.5u</text>
<text transform="translate(377.70,817.00) scale(0.8979310344827587,1)" fill="#0000ff" text-anchor="middle">399.6u</text>
<text transform="translate(427.70,817.00) scale(0.8979310344827587,1)" fill="#0000ff" text-anchor="middle">399.7u</text>
<text transform="translate(477.70,817.00) scale(0.8979310344827587,1)" fill="#0000ff" text-anchor="middle">399.8u</text>
<text transform="translate(527.70,817.00) scale(0.8979310344827587,1)" fill="#0000ff" text-anchor="middle">399.9u</text>
<text transform="translate(578.00,817.00) scale(0.8689655172413793,1)" fill="#0000ff" text-anchor="middle">400.0u</text>
<text transform="translate(77.70,832.90) scale(0.8660689655172413,1)" fill="#ff00ff" text-anchor="start">ID(X2.M1)</text>
<text transform="translate(264.70,848.80) scale(0.8689655172413793,1)" fill="#0000ff" text-anchor="start">T</text>
</svg></body></html>
